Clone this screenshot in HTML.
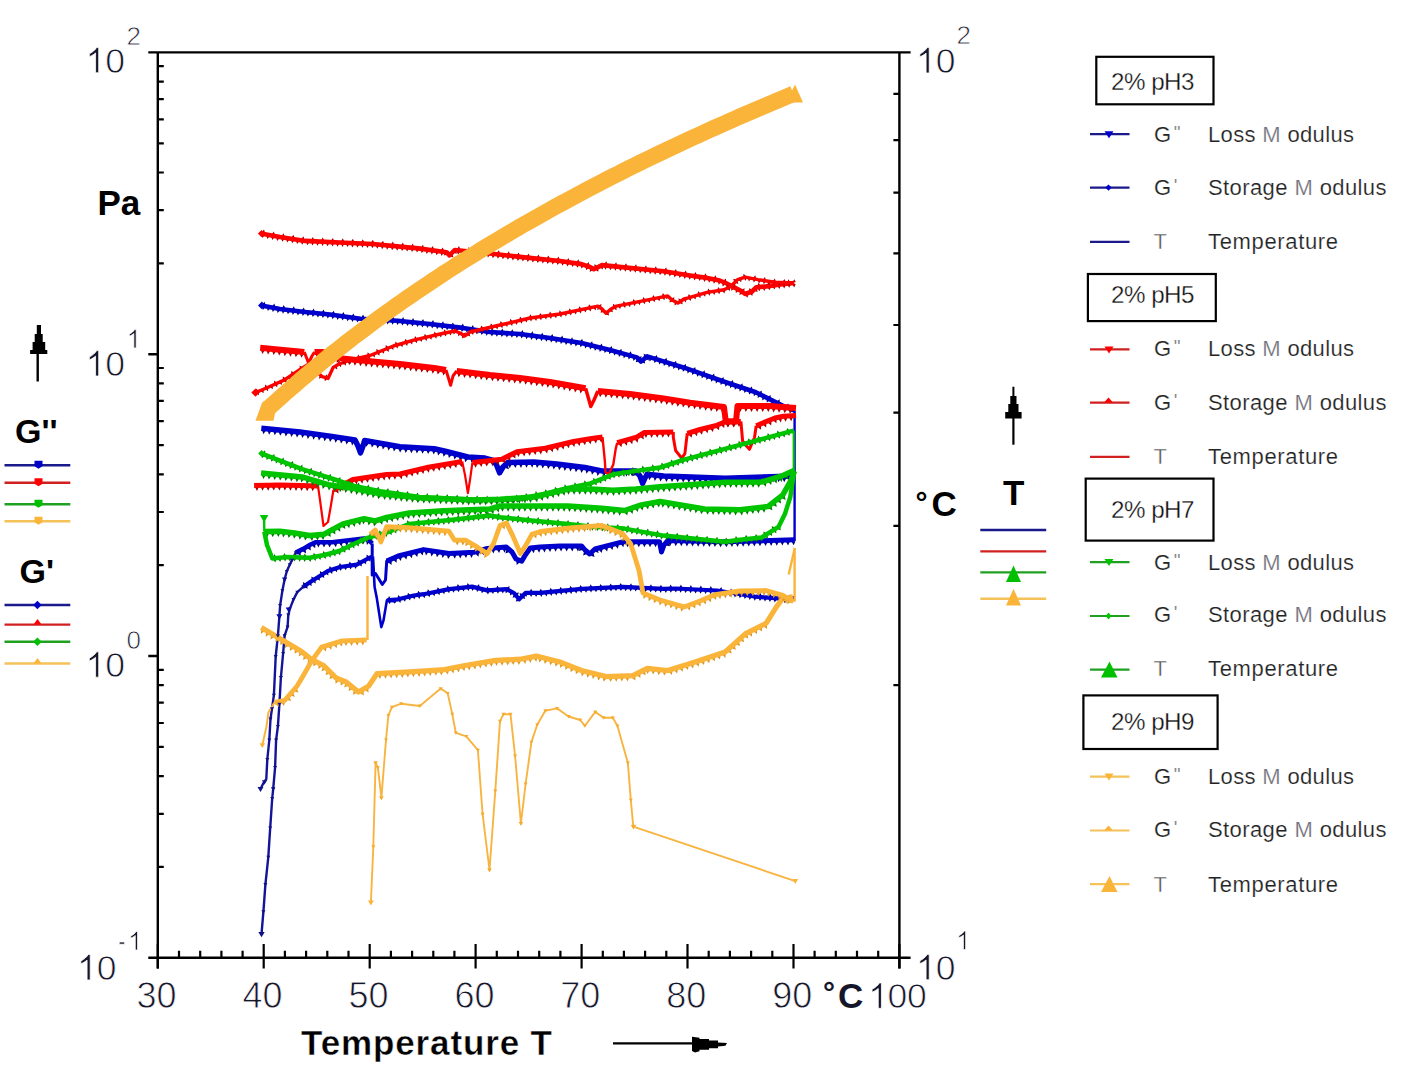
<!DOCTYPE html><html><head><meta charset="utf-8"><style>html,body{margin:0;padding:0;background:#fff;overflow:hidden;}svg{display:block;}text{font-family:"Liberation Sans",sans-serif;}</style></head><body>
<svg width="1414" height="1075" viewBox="0 0 1414 1075">
<rect width="1414" height="1075" fill="#fff"/>
<path d="M262.0 307.1L264.9 307.6L262.9 310.1ZM262.6 304.1L265.5 304.7L264.6 301.7ZM266.9 308.0L269.9 308.6L267.9 311.0ZM271.8 309.0L274.8 309.5L272.8 312.0ZM272.4 306.0L275.3 306.6L274.4 303.5ZM276.7 309.9L279.7 310.5L277.7 312.9ZM281.8 310.7L284.7 311.1L282.9 313.7ZM282.1 307.7L285.1 308.1L283.9 305.1ZM286.7 311.3L289.7 311.7L287.9 314.3ZM291.7 311.9L294.7 312.3L292.8 314.9ZM292.1 308.9L295.0 309.3L293.9 306.3ZM296.7 312.5L299.6 312.9L297.8 315.5ZM301.6 313.1L304.6 313.5L302.8 316.1ZM302.0 310.1L305.0 310.5L303.8 307.5ZM306.6 313.7L309.6 314.0L307.8 316.6ZM311.6 314.2L314.6 314.5L312.8 317.1ZM311.9 311.2L314.9 311.5L313.7 308.5ZM316.6 314.7L319.6 315.0L317.8 317.6ZM321.5 315.2L324.5 315.5L322.8 318.1ZM321.8 312.2L324.8 312.5L323.6 309.5ZM326.5 315.7L329.5 316.0L327.7 318.6ZM331.4 316.2L334.4 316.6L332.5 319.2ZM331.8 313.2L334.8 313.6L333.7 310.7ZM336.4 316.9L339.4 317.3L337.5 319.9ZM341.3 317.6L344.3 318.0L342.4 320.6ZM341.7 314.6L344.7 315.0L343.6 312.0ZM346.3 318.3L349.3 318.7L347.4 321.2ZM351.2 318.9L354.2 319.3L352.3 321.9ZM351.7 316.0L354.6 316.4L353.5 313.4ZM356.2 319.6L359.2 320.0L357.3 322.6ZM361.3 320.2L364.3 320.4L362.6 323.1ZM361.4 317.3L364.4 317.4L363.1 314.5ZM366.3 320.5L369.3 320.7L367.6 323.4ZM371.3 320.8L374.3 321.0L372.6 323.7ZM371.4 317.8L374.4 318.0L373.1 315.1ZM376.3 321.1L379.2 321.3L377.6 324.0ZM381.2 321.4L384.2 321.6L382.6 324.3ZM381.4 318.4L384.4 318.6L383.1 315.7ZM386.2 321.7L389.2 321.8L387.6 324.5ZM391.2 322.0L394.2 322.1L392.6 324.8ZM391.4 319.0L394.4 319.1L393.1 316.2ZM396.2 322.2L399.1 322.5L397.4 325.1ZM401.1 322.7L404.1 323.0L402.4 325.6ZM401.4 319.7L404.4 320.0L403.2 317.0ZM406.1 323.2L409.1 323.5L407.3 326.1ZM411.1 323.7L414.1 323.9L412.3 326.6ZM411.4 320.7L414.4 321.0L413.2 318.0ZM416.1 324.1L419.1 324.4L417.3 327.1ZM421.0 324.6L424.0 324.9L422.3 327.6ZM421.3 321.6L424.3 321.9L423.1 319.0ZM426.0 325.1L429.0 325.4L427.2 328.0ZM431.0 325.6L433.9 326.0L432.1 328.6ZM431.3 322.6L434.3 323.0L433.1 320.0ZM435.9 326.2L438.9 326.6L437.1 329.2ZM440.9 326.8L443.9 327.2L442.1 329.8ZM441.2 323.8L444.2 324.2L443.1 321.2ZM445.9 327.4L448.8 327.7L447.0 330.3ZM450.8 328.0L453.8 328.3L452.0 330.9ZM451.2 325.0L454.2 325.4L453.0 322.4ZM455.8 328.6L458.8 328.9L456.9 331.5ZM460.8 329.2L463.7 329.5L461.9 332.1ZM461.1 326.2L464.1 326.5L462.9 323.6ZM465.7 329.8L468.6 330.3L466.7 332.8ZM470.6 330.6L473.6 331.0L471.7 333.6ZM471.1 327.6L474.0 328.1L473.0 325.1ZM475.5 331.3L478.5 331.8L476.6 334.3ZM480.5 332.1L483.5 332.5L481.6 335.1ZM480.9 329.1L483.9 329.6L482.8 326.6ZM485.4 332.8L488.4 333.3L486.5 335.8ZM490.5 333.5L493.5 333.7L491.8 336.4ZM490.7 330.5L493.7 330.7L492.4 327.8ZM495.5 333.9L498.5 334.1L496.8 336.8ZM500.5 334.2L503.5 334.4L501.8 337.1ZM500.7 331.2L503.7 331.4L502.4 328.5ZM505.5 334.5L508.5 334.7L506.8 337.4ZM510.5 334.9L513.5 335.1L511.8 337.8ZM510.7 331.9L513.7 332.1L512.3 329.2ZM515.5 335.2L518.4 335.4L516.8 338.1ZM520.3 335.6L523.3 336.0L521.5 338.5ZM520.7 332.6L523.7 333.0L522.6 330.0ZM525.3 336.2L528.3 336.6L526.4 339.2ZM530.3 336.9L533.2 337.3L531.4 339.9ZM530.6 333.9L533.6 334.3L532.5 331.3ZM535.2 337.5L538.2 337.9L536.3 340.5ZM540.2 338.2L543.1 338.6L541.3 341.2ZM540.6 335.2L543.5 335.6L542.4 332.7ZM545.1 338.9L548.1 339.3L546.2 341.8ZM550.0 339.5L553.0 340.0L551.1 342.5ZM550.5 336.6L553.5 337.0L552.4 334.0ZM555.0 340.3L557.9 340.8L556.0 343.3ZM559.9 341.1L562.9 341.6L560.9 344.1ZM560.4 338.2L563.3 338.6L562.3 335.6ZM564.8 341.9L567.8 342.4L565.9 344.9ZM569.8 342.7L572.7 343.2L570.8 345.7ZM570.3 339.8L573.2 340.2L572.2 337.2ZM574.7 343.5L577.7 344.0L575.7 346.5ZM579.6 344.3L582.6 344.8L580.7 347.3ZM580.1 341.4L583.1 341.8L582.1 338.8ZM584.4 345.4L587.3 346.1L585.2 348.4ZM589.3 346.5L592.2 347.2L590.1 349.6ZM590.0 343.6L592.9 344.3L592.1 341.2ZM594.1 347.7L597.1 348.4L594.9 350.8ZM599.0 348.9L601.9 349.6L599.8 352.0ZM599.7 346.0L602.6 346.7L601.8 343.6ZM603.9 350.1L606.8 350.8L604.7 353.1ZM608.7 351.2L611.6 352.0L609.4 354.3ZM609.5 348.3L612.4 349.1L611.7 346.0ZM613.5 352.5L616.4 353.3L614.2 355.6ZM618.3 353.8L621.2 354.6L619.0 356.9ZM619.1 351.0L622.0 351.7L621.3 348.7ZM623.1 355.2L626.0 356.0L623.8 358.3ZM628.0 356.5L630.9 357.3L628.7 359.6ZM628.8 353.6L631.7 354.4L630.9 351.3ZM632.8 357.8L635.7 358.6L633.5 360.9ZM636.6 359.3L638.8 361.4L635.7 362.3ZM638.8 357.1L640.9 359.3L641.8 356.2ZM642.2 362.4L644.5 360.5L645.2 363.6ZM646.1 359.3L648.4 357.4L649.0 360.5ZM644.2 356.9L646.5 355.0L643.6 353.8ZM649.0 358.5L651.8 359.4L649.6 361.6ZM653.8 360.0L656.6 360.9L654.4 363.1ZM654.6 357.1L657.5 358.0L656.9 354.9ZM658.5 361.4L661.4 362.3L659.2 364.6ZM663.3 362.9L666.2 363.8L663.9 366.0ZM664.2 360.0L667.1 360.9L666.5 357.8ZM668.1 364.4L671.0 365.2L668.7 367.5ZM672.9 365.8L675.8 366.7L673.5 368.9ZM673.8 363.0L676.6 363.8L676.0 360.7ZM677.7 367.3L680.5 368.2L678.3 370.4ZM682.4 368.7L685.2 369.7L682.9 371.8ZM683.4 365.9L686.2 366.9L685.7 363.7ZM687.1 370.3L690.0 371.3L687.6 373.5ZM691.8 372.0L694.7 373.0L692.3 375.1ZM692.8 369.2L695.7 370.1L695.2 367.0ZM696.6 373.6L699.4 374.6L697.1 376.8ZM701.3 375.3L704.1 376.3L701.8 378.4ZM702.3 372.5L705.1 373.4L704.6 370.3ZM706.0 376.9L708.8 377.9L706.5 380.1ZM710.7 378.6L713.6 379.6L711.2 381.7ZM711.7 375.7L714.6 376.7L714.1 373.6ZM715.5 380.2L718.3 381.2L715.9 383.4ZM720.2 381.9L723.0 382.9L720.7 385.0ZM721.2 379.0L724.0 380.0L723.5 376.9ZM724.9 383.5L727.8 384.5L725.4 386.7ZM729.7 385.1L732.5 386.1L730.2 388.2ZM730.6 382.3L733.5 383.2L732.9 380.1ZM734.4 386.7L737.2 387.7L734.9 389.8ZM739.1 388.3L742.0 389.2L739.7 391.4ZM740.1 385.4L742.9 386.4L742.4 383.3ZM743.9 389.9L746.7 390.8L744.4 393.0ZM748.6 391.5L751.5 392.4L749.1 394.6ZM749.6 388.6L752.4 389.6L751.9 386.4ZM753.4 393.1L756.2 394.0L753.9 396.2ZM757.7 394.9L760.4 396.3L757.8 398.1ZM759.1 392.3L761.8 393.6L761.7 390.4ZM762.2 397.2L764.9 398.5L762.3 400.4ZM766.7 399.4L769.4 400.7L766.8 402.6ZM768.0 396.7L770.7 398.1L770.6 394.9ZM771.2 401.6L773.9 403.0L771.3 404.8ZM775.6 403.9L778.3 405.2L775.7 407.0ZM777.0 401.2L779.7 402.5L779.6 399.3ZM780.1 406.1L782.8 407.4L780.2 409.3ZM784.8 408.2L787.6 409.3L785.1 411.3ZM785.9 405.4L788.7 406.5L788.4 403.4ZM789.4 410.1L792.2 411.2L789.7 413.2Z" fill="#00007a"/>
<path d="M261.3 305.4 L280.0 309.0 L305.0 312.0 L330.0 314.5 L360.5 318.7 L397.4 320.8 L430.0 324.0 L462.9 327.9 L490.0 332.0 L520.0 334.0 L550.0 338.0 L581.5 343.1 L610.0 350.0 L636.9 357.4 L641.0 361.5 L647.2 356.4 L684.1 367.7 L725.1 382.0 L755.8 392.3 L782.5 405.6 L794.8 410.7" fill="none" stroke="#0000cc" stroke-width="4.6" stroke-linejoin="round" stroke-linecap="butt"/>
<path d="M262.0 430.2L265.8 430.6L263.5 434.2ZM267.6 430.8L271.4 431.1L269.1 434.7ZM273.2 431.3L276.9 431.7L274.7 435.3ZM278.7 431.9L282.5 432.2L280.2 435.8ZM284.3 432.4L288.1 432.8L285.8 436.4ZM289.9 433.0L293.7 433.3L291.4 436.9ZM295.4 433.5L299.2 433.9L297.0 437.5ZM300.9 434.1L304.7 434.6L302.3 438.1ZM306.5 434.9L310.2 435.4L307.8 438.9ZM312.0 435.6L315.8 436.1L313.4 439.7ZM317.6 436.4L321.3 436.9L318.9 440.4ZM323.1 437.2L326.9 437.7L324.5 441.2ZM328.7 437.9L332.4 438.4L330.0 441.9ZM334.2 438.7L337.9 439.3L335.5 442.8ZM339.7 439.6L343.5 440.2L341.0 443.6ZM345.2 440.5L349.0 441.0L346.5 444.5ZM350.8 441.3L354.5 441.9L352.1 445.4ZM365.1 442.6L368.9 443.2L366.3 446.7ZM370.7 443.6L374.4 444.2L371.9 447.6ZM376.2 444.5L379.9 445.2L377.4 448.6ZM381.7 445.5L385.4 446.2L382.9 449.6ZM387.2 446.5L390.9 447.2L388.4 450.6ZM392.7 447.5L396.5 448.1L393.9 451.6ZM398.4 448.7L402.2 448.9L400.1 452.6ZM404.0 449.0L407.8 449.2L405.7 452.9ZM409.6 449.3L413.4 449.5L411.3 453.2ZM415.2 449.6L419.0 449.8L416.9 453.5ZM420.8 449.9L424.6 450.1L422.5 453.8ZM426.4 450.2L430.2 450.4L428.1 454.1ZM432.0 450.5L435.8 450.7L433.7 454.4ZM437.2 451.4L440.9 452.3L438.1 455.5ZM442.6 452.7L446.3 453.5L443.6 456.8ZM448.0 454.0L451.7 454.9L448.9 458.1ZM453.4 455.4L457.1 456.3L454.4 459.5ZM458.9 456.7L462.6 457.7L459.8 460.9ZM464.3 458.1L468.0 459.0L465.2 462.3ZM470.2 459.1L473.9 459.3L471.8 463.0ZM475.7 459.5L479.5 459.7L477.4 463.4ZM481.3 459.8L485.1 460.1L483.0 463.7ZM486.4 460.6L490.1 461.6L487.2 464.7ZM491.8 462.1L495.5 463.2L492.6 466.3ZM505.0 467.8L507.7 465.1L509.0 469.2ZM507.8 464.5L511.6 464.4L509.8 468.3ZM513.4 464.4L517.2 464.3L515.4 468.1ZM519.0 464.2L522.8 464.1L521.0 468.0ZM524.6 464.1L528.4 464.0L526.6 467.8ZM530.2 464.0L533.9 463.8L532.2 467.7ZM535.5 464.0L539.3 464.4L537.0 468.0ZM541.1 464.6L544.9 464.9L542.6 468.5ZM546.6 465.1L550.4 465.5L548.2 469.1ZM552.2 465.6L556.0 466.0L553.7 469.6ZM557.7 466.2L561.5 466.7L559.2 470.2ZM563.3 466.9L567.1 467.3L564.7 470.9ZM568.9 467.5L572.6 468.0L570.3 471.5ZM574.4 468.2L578.2 468.7L575.9 472.2ZM580.0 468.9L583.8 469.3L581.4 472.9ZM585.4 469.6L589.1 470.3L586.5 473.7ZM590.9 470.7L594.6 471.4L592.0 474.8ZM596.4 471.8L600.1 472.5L597.5 475.9ZM602.2 472.8L606.0 472.8L604.1 476.6ZM607.8 472.8L611.6 472.8L609.7 476.6ZM613.4 472.8L617.2 472.8L615.3 476.6ZM619.0 472.8L622.8 472.8L620.9 476.6ZM624.6 472.8L628.4 472.8L626.5 476.6ZM630.2 472.8L634.0 472.8L632.1 476.6ZM634.3 472.2L636.7 475.1L632.6 476.1ZM647.8 476.3L651.6 476.7L649.3 480.3ZM653.4 476.9L657.1 477.4L654.8 480.9ZM658.9 477.6L662.7 478.0L660.4 481.5ZM664.6 478.1L668.4 478.2L666.4 481.9ZM670.2 478.3L674.0 478.4L672.0 482.1ZM675.8 478.5L679.6 478.6L677.6 482.3ZM681.4 478.7L685.2 478.8L683.2 482.5ZM687.0 478.9L690.8 479.0L688.8 482.7ZM692.6 479.0L696.4 479.2L694.4 482.9ZM698.2 479.2L702.0 479.4L700.0 483.1ZM703.8 479.4L707.6 479.6L705.6 483.3ZM709.4 479.6L713.2 479.7L711.2 483.5ZM715.0 479.8L718.8 479.9L716.8 483.7ZM720.6 480.0L724.4 480.1L722.4 483.9ZM726.3 480.1L730.1 480.0L728.3 483.9ZM731.9 479.9L735.7 479.8L733.9 483.7ZM737.5 479.8L741.3 479.7L739.5 483.5ZM743.1 479.6L746.9 479.5L745.1 483.3ZM748.7 479.4L752.5 479.3L750.7 483.2ZM754.3 479.3L758.1 479.2L756.3 483.0ZM759.9 479.1L763.7 479.0L761.9 482.8ZM765.5 478.9L769.3 478.8L767.5 482.7ZM771.1 478.8L774.9 478.7L773.1 482.5ZM776.7 478.6L780.5 478.5L778.7 482.3ZM782.3 478.4L786.1 478.3L784.3 482.2ZM787.9 478.3L791.7 478.1L789.9 482.0Z" fill="#00007a"/>
<path d="M261.3 428.2 L300.0 432.0 L331.9 436.4 L355.0 440.0 L358.0 446.0 L360.5 452.8 L363.0 446.0 L364.6 440.5 L400.0 446.8 L434.2 448.7 L445.3 451.3 L467.9 457.0 L484.9 458.1 L495.0 461.0 L499.6 472.8 L503.0 467.0 L507.5 462.6 L533.9 461.9 L556.6 464.1 L584.9 467.5 L601.8 470.9 L635.8 470.9 L640.0 476.0 L642.6 483.4 L645.0 478.0 L647.1 474.3 L663.6 476.1 L725.1 478.2 L794.8 476.1" fill="none" stroke="#0000cc" stroke-width="5.5" stroke-linejoin="round" stroke-linecap="butt"/>
<path d="M260.5 788.8 L263.0 784.0 L266.3 779.0 L267.3 759.5 L269.3 740.0 L270.5 719.0 L272.0 708.6 L273.9 695.2 L275.7 656.5 L277.9 635.7 L279.4 616.4 L280.1 605.5 L282.4 590.6 L284.6 579.4 L286.8 571.3 L289.8 564.6 L292.0 560.1 L295.8 552.6" fill="none" stroke="#14149a" stroke-width="2.4" stroke-linejoin="round" stroke-linecap="butt"/>
<path d="M297.3 553.5L300.7 551.8L300.7 556.1ZM302.4 551.1L305.7 549.2L306.0 553.4ZM307.3 548.2L310.5 546.3L310.8 550.5ZM311.9 545.6L315.4 544.1L315.2 548.3ZM316.5 543.7L320.3 543.7L318.4 547.5ZM322.1 543.7L325.9 543.8L324.0 547.6ZM327.7 543.8L331.5 543.8L329.6 547.6ZM333.5 543.6L337.3 543.2L335.8 547.2ZM339.1 543.0L342.8 542.5L341.4 546.5ZM344.6 542.3L348.4 541.9L347.0 545.9ZM350.2 541.6L354.0 541.2L352.5 545.2ZM355.8 541.0L359.5 540.5L358.1 544.5ZM361.3 540.3L365.1 539.9L363.7 543.9ZM366.2 540.7L369.8 541.8L366.9 544.9Z" fill="#00007a"/>
<path d="M295.8 552.6 L303.2 548.9 L310.6 544.5 L316.0 542.2 L331.9 542.3 L364.0 538.5 L369.0 540.0 L372.2 543.5" fill="none" stroke="#0000cc" stroke-width="4.6" stroke-linejoin="round" stroke-linecap="butt"/>
<path d="M372.2 543.5 L372.2 575.0 L375.5 573.5 L382.3 584.5 L385.5 580.0 L386.7 561.1 L398.2 556.0" fill="none" stroke="#0000cc" stroke-width="3" stroke-linejoin="round" stroke-linecap="butt"/>
<path d="M388.2 562.3L391.7 560.7L391.5 565.0ZM393.3 560.0L396.8 558.5L396.6 562.7ZM398.1 557.8L401.8 556.8L400.9 561.0ZM403.6 556.4L407.3 555.5L406.4 559.6ZM409.0 555.0L412.7 554.1L411.8 558.2ZM414.4 553.7L418.1 552.7L417.2 556.9ZM419.9 552.3L423.6 551.4L422.6 555.5ZM424.7 551.5L428.4 552.1L426.0 555.5ZM430.2 552.3L433.9 552.9L431.5 556.4ZM435.7 553.2L439.5 553.7L437.0 557.2ZM441.3 554.0L445.0 554.6L442.6 558.1ZM446.8 554.9L450.6 555.4L448.1 558.9ZM452.7 555.0L456.5 554.8L454.8 558.7ZM458.3 554.7L462.1 554.5L460.4 558.4ZM463.9 554.4L467.7 554.3L466.0 558.1ZM469.5 554.2L473.3 554.0L471.6 557.9ZM475.5 553.7L479.1 552.6L478.4 556.8ZM480.8 552.1L484.5 551.0L483.7 555.2ZM485.8 550.2L489.6 550.0L487.9 553.9ZM491.3 549.8L495.1 549.6L493.5 553.5ZM496.9 549.4L500.7 549.2L499.1 553.1ZM502.5 549.1L506.3 548.8L504.7 552.7ZM506.5 549.4L509.3 551.9L505.4 553.5ZM516.3 560.9L519.8 562.2L516.7 565.1ZM531.4 549.6L535.1 549.3L533.6 553.2ZM536.9 549.1L540.7 548.7L539.2 552.7ZM542.4 548.7L546.2 548.5L544.6 552.4ZM548.0 548.4L551.8 548.2L550.1 552.1ZM553.6 548.1L557.4 547.8L555.7 551.7ZM559.1 547.7L562.9 547.7L561.1 551.5ZM564.7 547.7L568.5 547.7L566.7 551.5ZM570.3 547.7L574.1 547.6L572.3 551.4ZM575.9 547.6L579.7 547.6L577.9 551.4ZM580.2 547.0L582.7 549.9L578.6 550.9ZM584.1 551.4L587.0 553.9L583.1 555.6ZM590.6 555.5L593.4 552.9L594.6 556.9ZM594.7 551.6L597.5 549.0L598.7 553.1ZM598.9 549.7L602.6 548.8L601.7 552.9ZM604.3 548.3L608.0 547.4L607.1 551.5ZM609.7 546.9L613.4 545.9L612.5 550.1ZM615.1 545.5L618.8 544.5L617.9 548.7ZM620.6 544.1L624.2 543.1L623.4 547.3ZM625.7 543.5L629.5 543.5L627.6 547.3ZM631.3 543.5L635.1 543.5L633.2 547.3ZM636.9 543.5L640.7 543.5L638.8 547.3ZM642.5 543.5L646.3 543.5L644.4 547.3ZM648.1 543.5L651.9 543.5L650.0 547.3ZM653.7 543.5L657.5 543.5L655.6 547.3ZM665.9 545.4L668.3 542.4L670.0 546.3ZM668.3 542.2L672.1 542.3L670.1 546.1ZM673.9 542.3L677.7 542.4L675.7 546.2ZM679.5 542.5L683.3 542.6L681.3 546.3ZM685.1 542.6L688.9 542.7L686.9 546.4ZM690.7 542.7L694.5 542.8L692.5 546.6ZM696.3 542.8L700.1 542.9L698.1 546.7ZM701.9 543.0L705.7 543.1L703.7 546.8ZM707.5 543.1L711.3 543.2L709.3 546.9ZM713.1 543.2L716.9 543.3L714.9 547.1ZM718.7 543.4L722.5 543.4L720.5 547.2ZM724.4 543.5L728.2 543.4L726.4 547.3ZM730.0 543.4L733.8 543.2L732.0 547.1ZM735.6 543.2L739.4 543.1L737.6 546.9ZM741.2 543.0L745.0 542.9L743.2 546.8ZM746.8 542.8L750.6 542.7L748.8 546.6ZM752.4 542.7L756.2 542.6L754.4 546.4ZM758.0 542.5L761.8 542.4L760.0 546.3ZM763.6 542.3L767.4 542.2L765.6 546.1ZM769.2 542.2L773.0 542.1L771.2 545.9ZM774.8 542.0L778.6 541.9L776.8 545.7ZM780.4 541.8L784.2 541.7L782.4 545.6ZM786.0 541.7L789.8 541.6L788.0 545.4ZM791.6 541.5L795.4 541.4L793.6 545.2Z" fill="#00007a"/>
<path d="M386.7 561.1 L398.2 556.0 L423.6 549.6 L449.1 553.5 L474.6 552.2 L487.3 548.4 L506.4 547.1 L512.0 552.0 L516.0 559.0 L521.7 561.1 L525.5 554.7 L530.3 548.0 L540.0 547.1 L560.0 546.0 L581.5 545.9 L585.0 550.0 L589.7 554.0 L595.0 549.0 L622.5 541.8 L659.5 541.8 L661.5 552.0 L664.0 545.0 L667.7 540.5 L725.1 541.8 L794.8 539.7" fill="none" stroke="#0000cc" stroke-width="5" stroke-linejoin="round" stroke-linecap="butt"/>
<path d="M261.5 934.1 L263.4 911.7 L265.4 884.4 L268.3 857.1 L270.2 827.8 L272.2 798.5 L273.2 788.8 L275.1 767.3 L276.1 740.0 L277.9 726.4 L279.4 704.1 L280.9 677.3 L283.1 653.5 L284.6 635.7 L287.6 626.8 L288.3 615.0 L289.8 608.9 L293.5 599.5 L297.3 592.1 L303.2 586.9" fill="none" stroke="#14149a" stroke-width="2.4" stroke-linejoin="round" stroke-linecap="butt"/>
<path d="M304.8 587.4L307.2 585.7L307.6 588.8ZM303.3 585.3L305.7 583.5L302.9 582.1ZM308.9 584.5L311.3 582.8L311.7 585.9ZM312.9 581.8L315.5 580.2L315.7 583.4ZM311.6 579.6L314.1 578.0L311.4 576.4ZM317.2 579.1L319.7 577.5L319.9 580.7ZM321.4 576.5L324.0 574.9L324.2 578.1ZM320.1 574.3L322.6 572.7L319.9 571.1ZM325.7 573.8L328.2 572.3L328.4 575.4ZM329.8 571.7L332.7 570.8L332.1 573.9ZM329.0 569.2L331.9 568.3L329.6 566.1ZM334.6 570.1L337.4 569.2L336.9 572.3ZM339.1 568.4L342.0 568.0L340.9 571.0ZM338.7 565.9L341.7 565.4L339.8 562.9ZM344.0 567.7L347.0 567.3L345.9 570.3ZM349.0 567.0L351.9 566.6L350.8 569.6ZM348.6 564.5L351.6 564.0L349.7 561.5ZM353.9 566.3L356.9 565.9L355.8 568.9ZM359.1 564.8L361.7 563.4L361.7 566.6ZM357.8 562.5L360.5 561.1L357.8 559.3ZM363.5 562.4L366.1 561.0L366.1 564.2ZM367.9 560.1L370.5 558.7L370.5 561.8ZM366.6 557.8L369.3 556.4L366.6 554.6Z" fill="#00007a"/>
<path d="M303.2 586.9 L310.6 581.7 L327.8 571.0 L340.0 567.0 L356.7 564.6 L369.0 558.0 L373.0 556.5" fill="none" stroke="#0000cc" stroke-width="4.2" stroke-linejoin="round" stroke-linecap="butt"/>
<path d="M373.0 556.5 L374.6 587.0 L376.8 598.1 L381.3 627.1 L383.5 620.4 L386.9 600.4 L395.8 601.5" fill="none" stroke="#0000cc" stroke-width="2.6" stroke-linejoin="round" stroke-linecap="butt"/>
<path d="M388.0 601.6L391.0 601.3L389.8 604.2ZM387.8 599.0L390.8 598.7L389.0 596.1ZM393.0 601.1L396.0 600.8L394.8 603.8ZM398.2 600.6L401.1 599.9L400.3 603.0ZM397.5 598.1L400.5 597.4L398.3 595.0ZM403.0 599.5L405.9 598.7L405.1 601.8ZM407.9 598.3L410.8 597.6L410.0 600.6ZM407.3 595.7L410.2 595.0L408.0 592.7ZM412.6 597.0L415.5 596.6L414.4 599.5ZM417.5 596.3L420.5 595.9L419.4 598.9ZM417.2 593.7L420.2 593.3L418.3 590.8ZM422.6 595.7L425.5 595.1L424.6 598.2ZM427.5 594.7L430.4 594.2L429.5 597.2ZM427.0 592.2L429.9 591.6L427.9 589.2ZM432.4 593.8L435.3 593.2L434.4 596.2ZM437.3 592.8L440.2 592.2L439.3 595.2ZM436.8 590.2L439.7 589.6L437.7 587.2ZM442.2 591.8L445.1 591.2L444.2 594.3ZM447.1 590.8L450.0 590.2L449.1 593.3ZM446.6 588.3L449.5 587.7L447.5 585.2ZM451.9 590.1L454.9 589.8L453.7 592.7ZM456.9 589.6L459.9 589.2L458.7 592.2ZM456.6 587.0L459.6 586.6L457.8 584.0ZM461.9 589.0L464.8 588.7L463.7 591.6ZM466.8 588.5L469.8 588.1L468.6 591.1ZM466.6 585.9L469.5 585.6L467.7 582.9ZM471.4 587.8L474.3 588.5L472.1 590.9ZM476.2 589.0L479.1 589.7L477.0 592.1ZM476.8 586.5L479.7 587.2L479.0 584.1ZM481.1 590.2L484.0 590.9L481.8 593.3ZM486.3 591.8L489.3 591.6L488.0 594.5ZM486.1 589.2L489.1 589.0L487.4 586.3ZM491.3 591.4L494.3 591.2L493.0 594.1ZM496.3 591.1L499.3 590.9L498.0 593.8ZM496.1 588.5L499.1 588.3L497.4 585.6ZM501.3 590.8L504.2 590.5L502.9 593.4ZM505.6 590.1L508.3 591.5L505.6 593.3ZM506.8 587.8L509.4 589.2L509.4 586.0ZM510.0 592.4L512.7 593.8L510.1 595.6ZM513.8 594.8L515.6 597.1L512.5 597.7ZM515.8 593.1L517.7 595.5L518.9 592.5ZM516.9 598.6L518.8 601.0L515.7 601.6ZM522.2 598.0L524.3 595.9L525.3 598.9ZM520.4 596.2L522.5 594.1L519.5 593.1ZM524.6 594.2L527.6 594.2L526.1 597.0ZM529.6 594.2L532.6 594.2L531.1 597.0ZM529.6 591.6L532.6 591.6L531.1 588.8ZM534.6 594.2L537.6 594.2L536.1 597.0ZM539.7 594.2L542.7 593.9L541.4 596.9ZM539.4 591.6L542.4 591.4L540.7 588.7ZM544.7 593.8L547.6 593.5L546.4 596.4ZM549.6 593.3L552.6 593.0L551.4 595.9ZM549.4 590.7L552.4 590.4L550.6 587.8ZM554.6 592.8L557.6 592.5L556.4 595.4ZM559.6 592.3L562.6 592.0L561.3 595.0ZM559.3 589.7L562.3 589.4L560.6 586.8ZM564.6 591.8L567.6 591.6L566.3 594.5ZM569.5 591.4L572.5 591.1L571.3 594.0ZM569.3 588.8L572.3 588.5L570.5 585.8ZM574.5 590.9L577.5 590.6L576.3 593.5ZM579.5 590.4L582.5 590.1L581.3 593.0ZM579.2 587.8L582.2 587.5L580.5 584.9ZM584.4 590.1L587.4 589.9L586.1 592.8ZM589.4 589.8L592.4 589.7L591.1 592.5ZM589.3 587.2L592.3 587.1L590.7 584.3ZM594.4 589.6L597.4 589.4L596.0 592.3ZM599.4 589.3L602.4 589.2L601.0 592.1ZM599.3 586.7L602.3 586.6L600.6 583.9ZM604.4 589.1L607.4 588.9L606.0 591.8ZM609.4 588.8L612.4 588.7L611.0 591.6ZM609.3 586.2L612.3 586.1L610.6 583.4ZM614.4 588.6L617.4 588.5L616.0 591.3ZM619.4 588.4L622.4 588.2L621.0 591.1ZM619.3 585.8L622.2 585.6L620.6 582.9ZM624.2 588.3L627.2 588.4L625.6 591.2ZM629.2 588.5L632.2 588.7L630.6 591.4ZM629.4 585.9L632.4 586.1L631.0 583.2ZM634.2 588.8L637.2 588.9L635.6 591.6ZM639.2 589.0L642.2 589.2L640.6 591.9ZM639.4 586.4L642.4 586.6L641.0 583.7ZM644.2 589.3L647.2 589.4L645.6 592.1ZM649.2 589.5L652.2 589.6L650.6 592.4ZM649.3 586.9L652.3 587.1L651.0 584.2ZM654.2 589.7L657.2 589.9L655.6 592.6ZM659.2 590.0L662.2 590.1L660.6 592.9ZM659.3 587.4L662.3 587.5L661.0 584.7ZM664.3 590.2L667.3 590.1L665.9 592.9ZM669.3 590.0L672.3 589.9L670.9 592.8ZM669.2 587.4L672.2 587.3L670.6 584.6ZM674.3 589.9L677.3 589.8L675.9 592.6ZM679.2 590.0L682.2 590.1L680.6 592.8ZM679.3 587.4L682.3 587.5L681.0 584.6ZM684.2 590.2L687.2 590.4L685.5 593.1ZM689.2 590.4L692.2 590.6L690.5 593.3ZM689.3 587.9L692.3 588.0L690.9 585.1ZM694.2 590.7L697.2 590.8L695.5 593.6ZM699.2 590.9L702.2 591.1L700.5 593.8ZM699.3 588.3L702.3 588.5L700.9 585.6ZM704.2 591.2L707.2 591.3L705.5 594.0ZM709.2 591.4L712.2 591.6L710.5 594.3ZM709.3 588.8L712.3 589.0L710.9 586.1ZM714.1 591.7L717.1 591.8L715.5 594.5ZM719.0 592.1L721.9 592.6L720.0 595.1ZM719.4 589.6L722.3 590.1L721.3 587.1ZM723.9 592.9L726.9 593.4L725.0 595.9ZM728.9 593.7L731.8 594.2L729.9 596.7ZM729.3 591.2L732.2 591.6L731.2 588.6ZM733.8 594.5L736.8 595.0L734.8 597.5ZM738.7 595.3L741.7 595.8L739.8 598.3ZM739.1 592.7L742.1 593.2L741.1 590.2ZM743.7 596.1L746.6 596.6L744.7 599.1ZM748.6 596.9L751.6 597.3L749.6 599.9ZM749.0 594.3L752.0 594.8L750.9 591.8ZM753.5 597.7L756.5 598.1L754.6 600.7ZM758.6 598.2L761.6 598.5L759.9 601.1ZM758.8 595.6L761.8 595.9L760.5 593.0ZM763.6 598.6L766.6 598.9L764.9 601.5ZM768.6 599.0L771.6 599.3L769.8 602.0ZM768.8 596.4L771.8 596.7L770.5 593.8ZM773.6 599.4L776.5 599.7L774.8 602.4ZM778.5 599.8L781.5 600.1L779.8 602.8ZM778.7 597.3L781.7 597.5L780.5 594.6ZM783.5 600.3L786.5 600.5L784.8 603.2ZM788.8 600.2L791.8 599.8L790.7 602.7ZM788.4 597.6L791.4 597.2L789.5 594.6Z" fill="#00007a"/>
<path d="M386.9 600.4 L398.2 599.3 L413.7 595.5 L423.6 594.2 L449.1 589.1 L472.0 586.6 L487.3 590.4 L506.4 589.1 L514.0 593.0 L519.1 599.3 L525.5 592.9 L540.0 592.9 L581.5 588.9 L622.5 586.9 L663.6 588.9 L675.9 588.5 L716.9 590.5 L755.8 596.7 L786.6 599.2 L794.8 598.0" fill="none" stroke="#0000cc" stroke-width="4.2" stroke-linejoin="round" stroke-linecap="butt"/>
<path d="M794.6 410.7 L794.6 541.0" fill="none" stroke="#0000cc" stroke-width="2.4" stroke-linejoin="round" stroke-linecap="butt"/>
<path d="M261.5 235.1L264.5 235.6L262.5 238.1ZM262.1 232.1L265.0 232.7L264.0 229.6ZM266.4 236.0L269.4 236.5L267.4 239.0ZM271.3 236.9L274.3 237.5L272.3 239.9ZM271.9 234.0L274.8 234.5L273.9 231.5ZM276.2 237.8L279.2 238.4L277.2 240.9ZM281.2 238.7L284.2 239.2L282.3 241.7ZM281.7 235.7L284.6 236.2L283.6 233.2ZM286.2 239.5L289.1 239.9L287.2 242.5ZM291.1 240.2L294.1 240.7L292.2 243.2ZM291.6 237.3L294.5 237.7L293.5 234.7ZM296.0 241.0L299.0 241.4L297.1 244.0ZM301.0 241.8L304.0 242.2L302.0 244.7ZM301.4 238.8L304.4 239.2L303.4 236.2ZM306.1 242.4L309.1 242.6L307.5 245.3ZM311.1 242.7L314.1 242.8L312.5 245.5ZM311.2 239.7L314.2 239.8L312.9 236.9ZM316.1 242.9L319.1 243.0L317.5 245.8ZM321.1 243.1L324.1 243.3L322.5 246.0ZM321.2 240.1L324.2 240.3L322.8 237.4ZM326.1 243.4L329.1 243.5L327.4 246.2ZM331.1 243.6L334.1 243.7L332.4 246.5ZM331.2 240.6L334.2 240.7L332.8 237.9ZM336.1 243.8L339.1 244.0L337.4 246.7ZM341.1 244.1L344.1 244.2L342.4 246.9ZM341.2 241.1L344.2 241.2L342.8 238.3ZM346.1 244.3L349.1 244.4L347.4 247.1ZM351.0 244.5L354.0 244.6L352.4 247.4ZM351.2 241.5L354.2 241.6L352.8 238.8ZM356.0 244.7L359.0 244.9L357.4 247.6ZM361.0 245.0L364.0 245.1L362.4 247.8ZM361.2 242.0L364.2 242.1L362.8 239.2ZM366.0 245.2L369.0 245.3L367.4 248.1ZM371.0 245.4L374.0 245.6L372.4 248.3ZM371.2 242.4L374.2 242.6L372.8 239.7ZM375.9 245.8L378.9 246.1L377.2 248.7ZM380.9 246.3L383.9 246.6L382.1 249.2ZM381.2 243.3L384.2 243.6L383.0 240.7ZM385.9 246.8L388.9 247.1L387.1 249.7ZM390.9 247.3L393.9 247.5L392.1 250.2ZM391.2 244.3L394.1 244.6L392.9 241.6ZM395.8 247.7L398.8 248.0L397.1 250.7ZM400.8 248.2L403.8 248.5L402.0 251.1ZM401.1 245.2L404.1 245.5L402.9 242.6ZM405.8 248.7L408.8 249.0L407.0 251.6ZM410.8 249.2L413.8 249.5L412.0 252.1ZM411.1 246.2L414.0 246.5L412.8 243.5ZM415.8 249.7L418.7 249.9L417.0 252.6ZM420.7 250.2L423.6 250.6L421.8 253.2ZM421.1 247.2L424.0 247.6L422.9 244.7ZM425.6 250.9L428.6 251.3L426.7 253.9ZM430.6 251.6L433.5 252.0L431.7 254.5ZM431.0 248.6L433.9 249.0L432.8 246.0ZM435.5 252.2L438.5 252.6L436.6 255.2ZM440.5 252.9L443.5 253.3L441.6 255.9ZM440.9 249.9L443.9 250.3L442.7 247.4ZM444.8 252.6L446.9 254.8L443.8 255.6ZM450.4 256.5L452.5 254.3L453.5 257.4ZM448.3 254.4L450.4 252.2L447.4 251.4ZM453.9 252.9L456.0 250.8L457.0 253.8ZM456.9 251.7L459.9 252.0L458.1 254.7ZM457.2 248.7L460.2 249.0L459.0 246.1ZM461.9 252.2L464.9 252.5L463.1 255.2ZM466.9 252.7L469.9 253.0L468.1 255.6ZM467.2 249.7L470.2 250.0L468.9 247.1ZM471.9 253.2L474.8 253.5L473.1 256.1ZM476.8 253.7L479.8 254.0L478.0 256.6ZM477.1 250.7L480.1 251.0L478.9 248.1ZM481.8 254.2L484.8 254.5L483.0 257.1ZM486.8 254.7L489.8 255.0L488.0 257.6ZM487.1 251.7L490.1 252.0L488.8 249.1ZM491.7 255.2L494.7 255.5L492.9 258.2ZM496.7 255.8L499.7 256.1L497.9 258.7ZM497.0 252.8L500.0 253.1L498.8 250.2ZM501.7 256.3L504.7 256.7L502.8 259.3ZM506.6 256.9L509.6 257.2L507.8 259.8ZM507.0 253.9L510.0 254.3L508.8 251.3ZM511.6 257.5L514.6 257.8L512.8 260.4ZM516.6 258.0L519.6 258.4L517.8 261.0ZM516.9 255.0L519.9 255.4L518.7 252.4ZM521.6 258.6L524.5 258.9L522.8 261.5ZM526.5 259.1L529.5 259.4L527.7 262.0ZM526.8 256.1L529.8 256.4L528.6 253.5ZM531.5 259.6L534.5 259.9L532.7 262.5ZM536.5 260.1L539.5 260.4L537.7 263.0ZM536.8 257.1L539.8 257.4L538.6 254.5ZM541.5 260.6L544.4 260.9L542.7 263.5ZM546.4 261.1L549.4 261.4L547.6 264.1ZM546.7 258.1L549.7 258.4L548.5 255.5ZM551.4 261.6L554.4 261.9L552.6 264.6ZM556.4 262.1L559.4 262.4L557.6 265.1ZM556.7 259.2L559.7 259.5L558.5 256.5ZM561.3 262.7L564.3 263.1L562.4 265.7ZM566.2 263.4L569.2 263.8L567.3 266.4ZM566.7 260.4L569.6 260.9L568.5 257.9ZM571.2 264.1L574.2 264.6L572.3 267.1ZM576.1 264.8L579.1 265.3L577.2 267.8ZM576.6 261.9L579.5 262.3L578.4 259.3ZM580.8 265.5L583.7 266.4L581.3 268.6ZM585.6 267.1L588.4 268.0L586.1 270.2ZM586.5 264.2L589.4 265.2L588.8 262.1ZM590.0 268.7L592.5 270.2L589.8 271.9ZM595.7 269.9L598.4 268.6L598.3 271.7ZM594.4 267.2L597.1 265.9L594.5 264.0ZM600.2 267.7L602.9 266.3L602.8 269.5ZM604.1 266.8L607.1 267.1L605.3 269.8ZM604.4 263.8L607.4 264.1L606.2 261.2ZM609.1 267.3L612.1 267.6L610.3 270.3ZM614.0 267.8L617.0 268.1L615.3 270.8ZM614.3 264.8L617.3 265.1L616.1 262.2ZM619.0 268.3L622.0 268.6L620.2 271.3ZM624.0 268.8L627.0 269.1L625.2 271.8ZM624.3 265.8L627.3 266.1L626.1 263.2ZM629.0 269.3L631.9 269.6L630.2 272.3ZM633.9 269.8L636.9 270.1L635.2 272.8ZM634.2 266.8L637.2 267.1L636.0 264.2ZM638.9 270.3L641.9 270.6L640.1 273.3ZM643.9 270.8L646.9 271.1L645.1 273.8ZM644.2 267.8L647.2 268.1L646.0 265.2ZM648.9 271.3L651.8 271.6L650.1 274.3ZM653.8 271.8L656.8 272.1L655.1 274.8ZM654.1 268.8L657.1 269.1L655.9 266.2ZM658.8 272.3L661.8 272.6L660.0 275.3ZM663.7 272.8L666.7 273.3L664.8 275.8ZM664.2 269.9L667.1 270.3L666.1 267.3ZM668.6 273.6L671.6 274.1L669.7 276.6ZM673.6 274.4L676.6 274.8L674.6 277.4ZM674.0 271.4L677.0 271.9L676.0 268.9ZM678.5 275.1L681.5 275.6L679.6 278.1ZM683.5 275.9L686.4 276.4L684.5 278.9ZM683.9 272.9L686.9 273.4L685.8 270.4ZM688.4 276.7L691.4 277.1L689.5 279.7ZM693.4 277.4L696.3 277.8L694.4 280.4ZM693.8 274.4L696.8 274.9L695.7 271.9ZM698.3 278.1L701.3 278.6L699.4 281.1ZM703.3 278.9L706.2 279.3L704.3 281.9ZM703.7 275.9L706.7 276.3L705.6 273.3ZM708.1 279.7L711.1 280.3L709.0 282.7ZM713.0 280.7L715.9 281.3L713.9 283.7ZM713.6 277.7L716.6 278.3L715.6 275.3ZM717.9 281.7L720.8 282.3L718.8 284.7ZM722.3 283.2L725.1 284.4L722.6 286.4ZM723.5 280.5L726.3 281.6L725.9 278.4ZM726.8 285.2L729.4 286.6L726.8 288.4ZM731.2 287.5L733.9 288.9L731.3 290.7ZM732.6 284.9L735.3 286.2L735.2 283.0ZM735.7 289.8L738.4 291.1L735.8 293.0ZM739.9 291.9L742.3 293.7L739.4 295.0ZM741.8 289.5L744.1 291.3L744.7 288.2ZM745.3 295.6L748.1 294.5L747.6 297.7ZM750.0 293.8L752.8 292.8L752.3 296.0ZM748.9 291.0L751.7 290.0L749.4 287.9ZM754.7 291.0L756.8 288.8L757.7 291.9ZM757.7 288.7L760.6 288.4L759.4 291.3ZM757.4 285.7L760.4 285.4L758.6 282.8ZM762.6 288.2L765.6 288.0L764.4 290.9ZM767.7 287.7L770.7 287.3L769.6 290.3ZM767.3 284.8L770.2 284.3L768.4 281.8ZM772.6 287.0L775.6 286.6L774.5 289.6ZM777.6 286.4L780.6 285.9L779.5 288.9ZM777.2 283.4L780.2 283.0L778.3 280.4ZM782.5 285.7L785.5 285.4L784.3 288.4ZM787.5 285.2L790.5 284.9L789.3 287.8ZM787.2 282.2L790.1 281.9L788.4 279.3ZM792.5 284.7L795.4 284.4L794.2 287.3Z" fill="#a80000"/>
<path d="M260.8 233.4 L280.0 237.0 L305.3 240.9 L340.0 242.5 L372.8 244.0 L418.4 248.4 L446.5 252.2 L449.5 255.3 L454.7 250.0 L490.0 253.5 L520.0 256.9 L560.0 261.0 L581.5 264.1 L590.0 267.0 L593.8 269.2 L602.0 265.1 L663.6 271.3 L690.0 275.4 L707.0 277.9 L719.7 280.5 L725.7 283.0 L730.7 285.6 L740.9 290.7 L745.2 294.0 L752.0 291.5 L756.2 287.3 L766.4 286.4 L780.0 284.5 L794.0 283.0" fill="none" stroke="#ff0000" stroke-width="4.6" stroke-linejoin="round" stroke-linecap="butt"/>
<path d="M256.4 393.2L259.1 392.1L258.9 395.2ZM255.7 391.6L258.4 390.4L255.9 388.4ZM261.0 391.3L263.7 390.1L263.5 393.2ZM265.6 389.3L268.3 388.1L268.0 391.3ZM264.9 387.6L267.6 386.5L265.1 384.5ZM270.2 387.3L272.9 386.1L272.7 389.2ZM274.7 385.2L277.5 384.0L277.2 387.2ZM274.0 383.6L276.7 382.4L274.2 380.4ZM279.3 383.2L282.0 382.0L281.8 385.1ZM284.0 381.2L286.5 379.5L286.8 382.7ZM283.0 379.7L285.5 378.0L282.7 376.5ZM288.2 378.4L290.7 376.8L291.0 379.9ZM292.4 375.7L294.9 374.0L295.2 377.2ZM291.4 374.2L293.9 372.5L291.1 371.0ZM296.6 372.9L299.1 371.3L299.3 374.4ZM300.7 370.2L303.3 368.6L303.5 371.8ZM299.8 368.6L302.3 367.1L299.6 365.5ZM305.0 367.6L307.5 366.0L307.7 369.1ZM308.2 366.2L310.6 368.0L307.8 369.4ZM309.2 364.8L311.7 366.5L312.1 363.4ZM312.2 369.1L314.7 370.9L311.8 372.3ZM316.0 372.2L318.2 374.2L315.2 375.3ZM317.3 370.9L319.5 372.9L320.3 369.9ZM319.7 375.6L321.9 377.6L318.9 378.7ZM324.3 378.2L327.2 379.1L324.9 381.3ZM324.8 376.5L327.7 377.3L327.0 374.2ZM334.5 367.7L337.1 366.2L337.2 369.4ZM338.6 365.1L341.5 364.2L340.9 367.3ZM338.0 363.4L340.9 362.4L338.6 360.3ZM343.4 363.5L346.2 362.6L345.7 365.7ZM348.1 361.9L350.9 361.0L350.4 364.1ZM347.5 360.2L350.4 359.3L348.1 357.1ZM352.8 360.4L355.7 359.7L354.9 362.8ZM357.6 359.3L360.6 358.6L359.7 361.7ZM357.2 357.5L360.2 356.9L358.1 354.5ZM362.5 358.2L365.4 357.5L364.6 360.5ZM367.4 357.0L370.3 356.4L369.5 359.4ZM367.0 355.3L369.9 354.6L367.8 352.2ZM372.3 355.5L375.1 354.4L374.7 357.6ZM376.9 353.7L379.7 352.5L379.4 355.7ZM376.2 352.0L379.0 350.9L376.6 348.8ZM381.6 351.8L384.3 350.6L384.0 353.8ZM386.2 349.9L389.0 348.7L388.6 351.9ZM385.5 348.2L388.3 347.1L385.8 345.0ZM390.8 348.0L393.6 346.9L393.3 350.0ZM395.4 346.3L398.3 345.5L397.6 348.6ZM394.9 344.6L397.8 343.8L395.6 341.5ZM400.2 345.0L403.1 344.1L402.4 347.2ZM405.0 343.6L407.9 342.8L407.2 345.9ZM404.5 341.9L407.4 341.0L405.2 338.8ZM409.8 342.2L412.7 341.4L412.1 344.5ZM414.6 340.9L417.5 340.2L416.7 343.3ZM414.2 339.2L417.1 338.5L415.0 336.1ZM419.5 339.8L422.4 339.1L421.6 342.1ZM424.4 338.6L427.3 337.9L426.5 341.0ZM423.9 336.9L426.9 336.2L424.8 333.8ZM429.2 337.5L432.1 336.8L431.3 339.8ZM434.1 336.3L437.0 335.6L436.2 338.7ZM433.7 334.6L436.6 333.9L434.5 331.5ZM438.9 335.1L441.9 334.5L441.0 337.6ZM443.8 334.1L446.8 333.5L445.8 336.6ZM443.5 332.4L446.4 331.8L444.4 329.3ZM448.7 333.1L451.7 332.5L450.7 335.6ZM453.2 331.4L456.0 332.4L453.6 334.5ZM453.8 329.7L456.6 330.8L456.2 327.6ZM457.9 333.2L460.7 334.2L458.3 336.3ZM462.1 335.4L464.7 336.9L461.9 338.5ZM463.1 333.8L465.6 335.4L465.8 332.2ZM467.3 335.3L469.6 333.4L470.2 336.6ZM471.0 332.7L473.9 332.0L473.1 335.1ZM470.6 330.9L473.5 330.3L471.4 327.9ZM475.9 331.6L478.8 330.9L478.0 333.9ZM480.7 330.4L483.7 329.7L482.8 332.8ZM480.3 328.7L483.3 328.0L481.2 325.6ZM485.6 329.3L488.5 328.6L487.7 331.7ZM490.5 328.1L493.4 327.5L492.6 330.5ZM490.1 326.4L493.0 325.7L490.9 323.3ZM495.3 327.0L498.3 326.3L497.4 329.4ZM500.2 325.9L503.1 325.2L502.3 328.3ZM499.8 324.1L502.7 323.4L500.6 321.1ZM505.1 324.7L508.0 324.1L507.2 327.1ZM510.0 323.6L512.9 322.9L512.1 326.0ZM509.5 321.8L512.5 321.2L510.4 318.8ZM514.8 322.5L517.7 321.8L516.9 324.9ZM519.7 321.3L522.6 320.6L521.8 323.7ZM519.3 319.6L522.2 318.9L520.1 316.5ZM524.6 320.2L527.5 319.5L526.7 322.6ZM529.3 319.0L532.3 318.6L531.2 321.6ZM529.1 317.2L532.1 316.8L530.2 314.2ZM534.3 318.3L537.3 317.9L536.1 320.9ZM539.2 317.7L542.2 317.3L541.1 320.3ZM539.0 315.9L542.0 315.5L540.1 312.9ZM544.2 317.0L547.2 316.6L546.1 319.6ZM549.2 316.4L552.1 316.0L551.0 318.9ZM548.9 314.6L551.9 314.2L550.0 311.6ZM554.1 315.7L557.1 315.3L556.0 318.3ZM559.1 315.1L562.1 314.5L561.2 317.5ZM558.8 313.3L561.7 312.7L559.7 310.3ZM564.0 314.1L567.0 313.5L566.1 316.5ZM568.9 313.1L571.9 312.4L571.0 315.5ZM568.6 311.3L571.5 310.7L569.5 308.2ZM573.8 312.0L576.8 311.4L575.9 314.5ZM578.7 311.0L581.7 310.4L580.8 313.5ZM578.4 309.3L581.3 308.6L579.3 306.2ZM583.6 310.0L586.6 309.4L585.7 312.4ZM588.5 309.0L591.5 308.4L590.6 311.4ZM588.2 307.2L591.1 306.6L589.0 304.2ZM593.4 308.0L596.3 307.3L595.5 310.4ZM597.6 307.0L600.0 308.7L597.2 310.1ZM598.6 305.5L601.1 307.2L601.4 304.1ZM601.5 309.8L603.6 311.9L600.5 312.8ZM606.1 314.5L608.4 312.5L609.1 315.6ZM605.0 313.1L607.2 311.1L604.2 310.0ZM609.9 311.2L612.2 309.2L612.9 312.3ZM613.8 308.5L616.5 307.1L616.5 310.3ZM613.0 306.9L615.6 305.5L613.0 303.7ZM618.2 306.7L621.1 306.1L620.2 309.1ZM623.1 305.7L626.0 305.1L625.1 308.1ZM622.7 303.9L625.7 303.3L623.6 300.9ZM628.0 304.7L630.9 304.1L630.0 307.2ZM632.9 303.7L635.8 303.2L634.9 306.2ZM632.5 302.0L635.5 301.4L633.4 298.9ZM637.8 302.8L640.7 302.2L639.8 305.2ZM642.7 301.8L645.6 301.2L644.7 304.2ZM642.3 300.0L645.3 299.4L643.3 297.0ZM647.6 300.8L650.5 300.2L649.6 303.3ZM652.5 299.8L655.4 299.3L654.5 302.3ZM652.1 298.1L655.1 297.5L653.1 295.0ZM657.4 298.9L660.3 298.3L659.4 301.3ZM662.3 297.9L665.2 297.3L664.3 300.3ZM661.9 296.1L664.9 295.5L662.9 293.1ZM666.6 296.1L668.8 298.1L665.7 299.1ZM670.2 299.5L672.4 301.6L669.4 302.6ZM671.4 298.2L673.6 300.3L674.5 297.2ZM674.6 302.4L677.2 303.8L674.6 305.5ZM679.8 302.9L682.3 301.2L682.6 304.4ZM678.8 301.4L681.3 299.7L678.5 298.2ZM683.6 300.0L686.5 299.3L685.8 302.4ZM688.5 298.8L691.3 297.9L690.7 301.0ZM688.0 297.0L690.8 296.2L688.6 293.9ZM693.3 297.4L696.1 296.5L695.5 299.6ZM698.1 296.0L700.9 295.1L700.3 298.2ZM697.6 294.2L700.4 293.4L698.2 291.1ZM702.9 294.5L705.7 293.7L705.1 296.8ZM707.6 293.2L710.5 292.8L709.5 295.8ZM707.3 291.4L710.3 291.0L708.3 288.5ZM712.5 292.5L715.5 292.0L714.4 295.0ZM717.4 291.7L720.4 291.3L719.3 294.3ZM717.2 289.9L720.1 289.5L718.2 286.9ZM722.4 291.0L725.4 290.5L724.3 293.5ZM727.3 289.1L730.0 287.8L729.9 291.0ZM726.5 287.5L729.1 286.2L726.5 284.4ZM731.8 286.5L734.0 284.4L734.9 287.4ZM735.4 283.0L737.5 280.9L738.4 283.9ZM734.1 281.7L736.2 279.6L733.2 278.7ZM738.8 280.1L741.7 279.2L741.1 282.3ZM743.6 278.6L746.4 277.6L745.9 280.8ZM743.0 276.9L745.9 275.9L743.6 273.7ZM748.0 278.6L750.9 279.1L748.9 281.6ZM752.9 279.5L755.8 280.1L753.8 282.6ZM753.2 277.8L756.2 278.3L755.2 275.3ZM757.8 280.5L760.8 281.0L758.9 283.5ZM762.8 281.3L765.7 281.7L763.8 284.2ZM763.0 279.5L766.0 279.9L764.9 276.9ZM767.7 282.0L770.7 282.5L768.8 285.0ZM772.7 282.8L775.6 283.2L773.7 285.8ZM772.9 281.0L775.9 281.4L774.8 278.4ZM777.7 283.2L780.7 283.3L779.1 286.1ZM782.7 283.4L785.7 283.5L784.1 286.3ZM782.8 281.6L785.8 281.7L784.4 278.9ZM787.7 283.6L790.7 283.7L789.1 286.5ZM792.7 283.8L795.7 284.0L794.1 286.7ZM792.8 282.0L795.8 282.2L794.4 279.3Z" fill="#a80000"/>
<path d="M255.1 392.8 L267.0 387.7 L284.0 380.1 L300.9 369.0 L307.7 364.8 L315.0 370.0 L322.2 376.7 L328.1 378.4 L333.2 367.4 L339.1 364.0 L351.9 359.7 L370.0 355.5 L393.3 346.0 L413.7 340.2 L440.0 334.0 L454.7 331.0 L460.0 333.0 L464.9 336.0 L470.0 332.0 L500.0 325.0 L530.0 318.0 L560.0 314.0 L597.9 306.1 L602.0 309.0 L606.1 313.3 L611.0 309.0 L616.4 306.1 L667.7 295.9 L672.0 300.0 L677.9 303.1 L684.0 299.0 L688.2 297.9 L707.0 292.4 L724.0 289.8 L730.7 286.4 L737.5 279.6 L745.2 277.1 L757.9 279.6 L774.9 282.2 L794.4 283.0" fill="none" stroke="#ff0000" stroke-width="3.4" stroke-linejoin="round" stroke-linecap="butt"/>
<path d="M260.9 350.1L264.7 350.4L262.4 354.0ZM266.5 350.6L270.2 351.0L268.0 354.6ZM272.0 351.1L275.8 351.5L273.6 355.1ZM277.6 351.7L281.4 352.0L279.1 355.6ZM283.2 352.2L287.0 352.6L284.7 356.2ZM288.7 352.8L292.5 353.1L290.3 356.7ZM294.3 353.3L298.1 353.7L295.8 357.3ZM299.9 353.9L303.7 354.2L301.4 357.8Z" fill="#a80000"/>
<path d="M260.2 347.8 L278.0 349.5 L304.3 352.1" fill="none" stroke="#ff0000" stroke-width="6" stroke-linejoin="round" stroke-linecap="butt"/>
<path d="M304.3 352.1 L308.6 363.0 L312.0 356.0 L314.5 352.1" fill="none" stroke="#ff0000" stroke-width="3" stroke-linejoin="round" stroke-linecap="butt"/>
<path d="M315.4 354.3L319.2 354.2L317.4 358.1ZM321.0 354.2L324.8 354.2L323.0 358.0ZM325.7 355.2L329.3 356.5L326.3 359.5ZM331.0 357.0L334.6 358.3L331.6 361.3ZM336.3 358.9L339.9 360.1L336.9 363.1ZM342.1 360.7L345.9 361.1L343.6 364.7ZM347.7 361.3L351.5 361.6L349.2 365.2ZM353.3 361.8L357.0 362.2L354.8 365.8ZM358.8 362.3L362.6 362.7L360.3 366.3ZM364.4 362.9L368.2 363.2L366.0 366.9ZM370.0 363.4L373.8 363.8L371.5 367.4ZM375.6 363.9L379.3 364.3L377.1 367.9ZM381.1 364.5L384.9 364.8L382.7 368.4ZM386.7 365.0L390.5 365.3L388.3 368.9ZM392.3 365.5L396.1 365.8L393.8 369.5ZM397.9 366.0L401.7 366.4L399.4 370.0ZM403.4 366.6L407.2 367.0L404.8 370.6ZM409.0 367.2L412.7 367.7L410.4 371.2ZM414.5 367.9L418.3 368.3L416.0 371.9ZM420.1 368.5L423.9 368.9L421.5 372.5ZM425.6 369.1L429.4 369.6L427.1 373.1ZM431.2 369.8L435.0 370.2L432.7 373.8ZM436.6 370.6L440.4 371.2L437.8 374.6ZM442.1 371.5L445.9 372.2L443.3 375.6Z" fill="#a80000"/>
<path d="M314.5 352.1 L323.0 352.0 L342.1 358.5 L364.6 360.7 L400.0 364.0 L434.2 367.9 L446.0 370.0" fill="none" stroke="#ff0000" stroke-width="6" stroke-linejoin="round" stroke-linecap="butt"/>
<path d="M446.0 370.0 L450.6 385.3 L453.0 376.0 L456.7 370.9" fill="none" stroke="#ff0000" stroke-width="3" stroke-linejoin="round" stroke-linecap="butt"/>
<path d="M457.3 373.2L461.1 373.7L458.7 377.2ZM462.9 373.9L466.7 374.3L464.3 377.9ZM468.4 374.6L472.2 375.0L469.9 378.6ZM474.0 375.2L477.8 375.7L475.4 379.3ZM479.6 375.9L483.3 376.4L481.0 379.9ZM485.1 376.6L488.9 377.1L486.5 380.6ZM490.7 377.3L494.5 377.6L492.3 381.2ZM496.3 377.8L500.1 378.2L497.8 381.8ZM501.9 378.4L505.7 378.7L503.4 382.3ZM507.5 378.9L511.2 379.3L509.0 382.9ZM513.0 379.4L516.8 379.8L514.6 383.4ZM518.5 379.9L522.3 380.4L519.9 383.9ZM524.1 380.7L527.8 381.2L525.4 384.7ZM529.6 381.4L533.4 381.9L531.0 385.5ZM535.2 382.2L538.9 382.7L536.5 386.2ZM540.7 383.0L544.5 383.5L542.1 387.0ZM546.3 383.7L550.0 384.2L547.6 387.7ZM551.7 384.5L555.5 385.2L552.9 388.6ZM557.2 385.5L561.0 386.1L558.5 389.6ZM562.8 386.5L566.5 387.1L564.0 390.5ZM568.3 387.4L572.0 388.1L569.5 391.5ZM573.8 388.4L577.5 389.0L575.0 392.4ZM579.3 389.3L583.0 390.0L580.5 393.4Z" fill="#a80000"/>
<path d="M456.7 370.9 L490.0 375.0 L520.0 377.9 L550.0 382.0 L585.6 388.2" fill="none" stroke="#ff0000" stroke-width="6" stroke-linejoin="round" stroke-linecap="butt"/>
<path d="M585.6 388.2 L590.8 406.5 L594.0 400.0 L597.9 391.0" fill="none" stroke="#ff0000" stroke-width="3.5" stroke-linejoin="round" stroke-linecap="butt"/>
<path d="M598.6 393.3L602.4 393.6L600.1 397.2ZM604.2 393.8L608.0 394.1L605.7 397.8ZM609.7 394.3L613.5 394.7L611.3 398.3ZM615.3 394.8L619.1 395.2L616.9 398.8ZM620.9 395.4L624.7 395.7L622.4 399.3ZM626.5 395.9L630.3 396.2L628.0 399.8ZM632.0 396.5L635.7 397.0L633.3 400.5ZM637.5 397.2L641.3 397.7L638.9 401.2ZM643.1 397.9L646.8 398.4L644.5 401.9ZM648.6 398.7L652.4 399.1L650.0 402.7ZM654.2 399.4L657.9 399.9L655.6 403.4ZM659.7 400.1L663.5 400.6L661.1 404.1ZM665.2 400.9L668.9 401.5L666.5 404.9ZM670.7 401.8L674.5 402.4L672.0 405.8ZM676.2 402.7L680.0 403.3L677.5 406.7ZM681.8 403.6L685.5 404.2L683.0 407.6ZM687.3 404.5L691.1 405.1L688.6 408.5ZM692.9 405.3L696.7 405.8L694.3 409.3ZM698.5 406.0L702.2 406.5L699.9 410.0ZM704.0 406.7L707.8 407.2L705.4 410.7ZM709.6 407.4L713.4 407.9L711.0 411.4ZM715.1 408.1L718.9 408.6L716.6 412.1ZM720.7 408.8L724.5 409.3L722.1 412.8ZM726.5 423.2L730.3 423.4L728.2 427.1ZM732.1 423.5L735.9 423.7L733.8 427.4ZM738.4 408.2L742.2 408.2L740.3 412.0ZM744.0 408.2L747.8 408.2L745.9 412.0ZM749.6 408.2L753.4 408.2L751.5 412.0ZM755.2 408.3L759.0 408.3L757.1 412.1ZM760.8 408.3L764.6 408.3L762.7 412.1ZM766.4 408.3L770.2 408.3L768.3 412.1ZM771.8 408.5L775.6 408.7L773.5 412.4ZM777.4 408.9L781.2 409.1L779.0 412.8ZM783.0 409.3L786.8 409.5L784.6 413.2ZM788.6 409.7L792.4 409.9L790.2 413.6Z" fill="#a80000"/>
<path d="M597.9 391.0 L630.0 394.0 L663.6 398.4 L690.0 402.7 L724.0 407.0 L725.7 421.0 L736.0 421.5 L737.5 406.0 L769.8 406.1 L796.0 408.0" fill="none" stroke="#ff0000" stroke-width="6" stroke-linejoin="round" stroke-linecap="butt"/>
<path d="M255.0 487.2L258.8 487.1L257.0 490.9ZM260.6 487.1L264.4 487.0L262.6 490.8ZM266.2 487.0L270.0 486.9L268.2 490.7ZM271.8 486.9L275.6 486.8L273.8 490.6ZM277.4 486.7L281.2 486.7L279.4 490.5ZM283.0 486.8L286.8 486.9L284.8 490.6ZM288.6 486.9L292.4 487.0L290.4 490.7ZM294.2 487.0L298.0 487.1L296.0 490.9ZM299.7 487.2L303.5 487.3L301.5 491.0ZM305.3 487.3L309.1 487.4L307.1 491.2ZM310.9 487.5L314.7 487.6L312.7 491.3Z" fill="#a80000"/>
<path d="M254.1 485.5 L280.0 485.0 L301.2 485.5 L318.0 486.0" fill="none" stroke="#ff0000" stroke-width="5" stroke-linejoin="round" stroke-linecap="butt"/>
<path d="M318.0 486.0 L320.0 500.0 L323.5 526.0 L328.0 522.0 L331.0 505.0 L333.4 490.0" fill="none" stroke="#ff0000" stroke-width="2.2" stroke-linejoin="round" stroke-linecap="butt"/>
<path d="M335.0 491.1L338.3 489.3L338.5 493.5ZM339.9 488.4L343.3 486.6L343.4 490.9ZM344.9 485.8L348.2 484.0L348.3 488.2ZM349.8 483.1L353.1 481.3L353.3 485.6ZM354.3 481.0L358.0 480.5L356.7 484.5ZM359.8 480.2L363.6 479.6L362.3 483.7ZM365.4 479.4L369.1 478.8L367.8 482.8ZM370.9 478.5L374.7 478.0L373.3 482.0ZM376.4 477.7L380.2 477.2L378.9 481.2ZM382.0 476.9L385.7 476.3L384.4 480.4ZM387.3 476.2L391.1 476.0L389.4 479.9ZM392.9 476.0L396.7 475.8L395.0 479.7ZM398.9 476.0L402.6 475.1L401.6 479.3ZM404.4 474.7L408.1 473.8L407.1 478.0ZM409.8 473.4L413.5 472.5L412.5 476.6ZM415.2 472.1L418.9 471.2L418.0 475.3ZM420.7 470.8L424.4 469.9L423.4 474.0ZM426.1 469.5L429.8 468.6L428.9 472.7ZM431.5 468.4L435.3 467.8L434.0 471.8ZM437.0 467.5L440.8 466.8L439.5 470.9ZM442.6 466.5L446.3 465.9L445.1 470.0ZM448.1 465.6L451.8 465.0L450.6 469.0ZM453.6 464.7L457.3 464.0L456.1 468.1ZM459.1 463.7L462.9 463.1L461.6 467.2Z" fill="#a80000"/>
<path d="M333.4 490.0 L352.9 479.5 L386.6 474.5 L400.0 474.0 L428.3 467.2 L462.2 461.5" fill="none" stroke="#ff0000" stroke-width="5" stroke-linejoin="round" stroke-linecap="butt"/>
<path d="M462.2 461.5 L465.0 475.0 L467.9 493.2 L470.0 480.0 L472.4 462.6" fill="none" stroke="#ff0000" stroke-width="2.2" stroke-linejoin="round" stroke-linecap="butt"/>
<path d="M473.5 464.2L477.3 463.7L475.8 467.7ZM479.1 463.5L482.8 463.1L481.4 467.1ZM484.6 462.9L488.4 462.5L486.9 466.5ZM490.2 462.3L494.0 461.8L492.5 465.8ZM495.7 461.6L499.5 461.2L498.1 465.2ZM501.9 461.0L505.3 459.4L505.3 463.6ZM507.0 458.6L510.4 456.9L510.3 461.1ZM512.0 456.1L515.4 454.4L515.4 458.6ZM516.4 453.5L520.1 453.0L518.7 457.0ZM521.9 452.8L525.7 452.4L524.3 456.4ZM527.5 452.2L531.3 451.7L529.8 455.7ZM533.0 451.5L536.8 451.0L535.4 455.0ZM538.6 450.8L542.4 450.4L540.9 454.4ZM544.4 450.3L548.1 449.4L547.1 453.5ZM549.8 449.0L553.5 448.1L552.6 452.2ZM555.3 447.7L559.0 446.8L558.0 450.9ZM560.7 446.3L564.4 445.5L563.5 449.6ZM566.2 445.0L569.9 444.1L568.9 448.3ZM571.6 443.7L575.3 442.8L574.3 447.0ZM577.0 442.7L580.7 442.0L579.5 446.1ZM582.5 441.8L586.3 441.1L585.0 445.2ZM588.0 440.8L591.8 440.2L590.5 444.3ZM593.5 440.0L597.3 439.5L596.0 443.5ZM599.1 439.2L602.8 438.7L601.5 442.7Z" fill="#a80000"/>
<path d="M472.4 462.6 L501.8 459.2 L517.0 451.7 L545.3 448.3 L573.6 441.5 L590.0 438.8 L602.5 437.0" fill="none" stroke="#ff0000" stroke-width="5" stroke-linejoin="round" stroke-linecap="butt"/>
<path d="M602.5 437.0 L604.8 460.6 L605.6 472.3 L608.7 474.3 L613.3 464.5 L615.7 448.9 L617.2 442.7" fill="none" stroke="#ff0000" stroke-width="2.4" stroke-linejoin="round" stroke-linecap="butt"/>
<path d="M618.5 444.1L622.2 443.1L621.4 447.2ZM623.9 442.6L627.6 441.5L626.8 445.7ZM629.3 441.1L633.0 440.0L632.2 444.2ZM634.7 439.5L638.4 438.5L637.6 442.7ZM640.2 437.1L643.4 435.1L643.8 439.4ZM644.1 434.2L647.9 434.1L646.0 438.0ZM649.7 434.1L653.5 434.0L651.6 437.9ZM655.3 434.0L659.1 433.9L657.2 437.8ZM660.9 433.9L664.7 433.9L662.8 437.7ZM666.5 433.8L670.3 433.8L668.4 437.6Z" fill="#a80000"/>
<path d="M617.2 442.7 L636.7 437.2 L644.5 432.5 L673.3 432.0" fill="none" stroke="#ff0000" stroke-width="5" stroke-linejoin="round" stroke-linecap="butt"/>
<path d="M673.3 432.0 L673.3 437.2 L675.6 450.5 L681.8 458.2 L684.9 453.6 L686.5 439.6 L687.3 433.3" fill="none" stroke="#ff0000" stroke-width="3" stroke-linejoin="round" stroke-linecap="butt"/>
<path d="M688.6 434.7L692.3 433.6L691.6 437.8ZM694.0 433.1L697.7 432.0L696.9 436.2ZM699.3 431.4L703.0 430.5L702.0 434.7ZM704.7 430.1L708.4 429.2L707.5 433.3ZM710.2 428.8L713.9 427.9L712.9 432.0ZM715.8 427.4L719.4 426.0L719.0 430.2ZM721.0 425.3L724.6 423.9L724.2 428.1ZM725.8 423.9L729.6 423.7L727.9 427.6ZM731.4 423.6L735.2 423.4L733.5 427.3ZM737.0 423.3L740.8 423.1L739.1 427.0Z" fill="#a80000"/>
<path d="M687.3 433.3 L700.0 429.5 L715.5 425.7 L724.0 422.3 L740.9 421.4" fill="none" stroke="#ff0000" stroke-width="5" stroke-linejoin="round" stroke-linecap="butt"/>
<path d="M740.9 421.4 L742.6 441.0 L749.4 449.4 L754.5 437.5 L756.2 425.7" fill="none" stroke="#ff0000" stroke-width="3" stroke-linejoin="round" stroke-linecap="butt"/>
<path d="M757.7 426.9L761.2 425.5L760.9 429.7ZM762.9 424.8L766.4 423.4L766.1 427.6ZM768.0 422.7L771.5 421.2L771.2 425.5ZM773.2 420.5L776.7 419.1L776.4 423.3ZM778.3 419.1L782.0 418.3L780.9 422.4ZM783.5 418.0L787.3 417.8L785.7 421.7ZM789.1 417.6L792.9 417.4L791.2 421.3Z" fill="#a80000"/>
<path d="M756.2 425.7 L774.9 418.0 L783.4 416.3 L796.1 415.5" fill="none" stroke="#ff0000" stroke-width="5" stroke-linejoin="round" stroke-linecap="butt"/>
<path d="M261.5 455.1L264.3 456.2L261.9 458.3ZM262.6 452.4L265.4 453.5L265.0 450.3ZM266.2 456.9L269.0 458.0L266.6 460.1ZM270.9 458.7L273.7 459.8L271.3 461.8ZM271.9 456.0L274.7 457.1L274.3 453.9ZM275.5 460.5L278.3 461.5L275.9 463.6ZM280.2 462.3L283.0 463.3L280.6 465.4ZM281.2 459.6L284.0 460.6L283.6 457.5ZM284.9 464.1L287.7 465.1L285.3 467.2ZM289.5 465.8L292.3 466.9L289.9 469.0ZM290.6 463.1L293.4 464.2L293.0 461.1ZM294.2 467.6L297.0 468.7L294.6 470.8ZM298.9 469.4L301.7 470.5L299.3 472.6ZM299.9 466.7L302.7 467.8L302.3 464.6ZM303.7 471.1L306.5 472.0L304.2 474.2ZM308.4 472.6L311.3 473.6L309.0 475.8ZM309.3 469.9L312.2 470.8L311.6 467.7ZM313.2 474.2L316.0 475.1L313.8 477.3ZM317.9 475.7L320.8 476.6L318.5 478.8ZM318.8 472.9L321.7 473.8L321.1 470.7ZM322.7 477.2L325.6 478.1L323.3 480.3ZM327.5 478.7L330.3 479.6L328.1 481.8ZM328.4 476.0L331.2 476.9L330.6 473.7ZM332.2 480.2L335.1 481.1L332.8 483.4ZM337.0 481.8L339.8 482.7L337.5 484.9ZM337.9 479.0L340.7 480.0L340.2 476.9ZM341.7 483.4L344.6 484.3L342.3 486.5ZM346.5 484.9L349.3 485.9L347.0 488.1ZM347.4 482.2L350.2 483.1L349.7 480.0ZM351.2 486.5L354.0 487.5L351.7 489.7ZM356.2 487.9L359.1 488.5L357.1 490.9ZM356.8 485.0L359.7 485.6L358.8 482.6ZM361.1 488.9L364.0 489.4L362.0 491.9ZM366.0 489.8L368.9 490.4L366.9 492.9ZM366.6 487.0L369.5 487.6L368.6 484.5ZM370.9 490.8L373.8 491.4L371.8 493.8ZM375.8 491.8L378.8 492.4L376.7 494.8ZM376.4 488.9L379.3 489.5L378.4 486.5ZM380.8 492.7L383.8 493.2L381.9 495.7ZM385.7 493.5L388.7 493.9L386.8 496.5ZM386.2 490.6L389.1 491.0L388.1 488.1ZM390.7 494.2L393.6 494.6L391.8 497.2ZM395.6 494.9L398.6 495.4L396.7 497.9ZM396.1 492.1L399.0 492.5L397.9 489.5ZM400.6 495.7L403.5 496.1L401.6 498.7ZM405.5 496.4L408.5 496.8L406.6 499.4ZM405.9 493.5L408.9 494.0L407.8 491.0ZM410.5 497.1L413.4 497.6L411.5 500.1ZM415.4 497.9L418.4 498.3L416.5 500.9ZM415.8 495.0L418.8 495.4L417.7 492.5ZM420.5 498.5L423.5 498.7L421.9 501.4ZM425.5 498.8L428.5 498.9L426.9 501.6ZM425.6 495.9L428.6 496.0L427.3 493.1ZM430.5 499.0L433.5 499.1L431.9 501.9ZM435.5 499.2L438.5 499.4L436.9 502.1ZM435.6 496.3L438.6 496.5L437.3 493.6ZM440.5 499.5L443.5 499.6L441.8 502.4ZM445.5 499.7L448.5 499.9L446.8 502.6ZM445.6 496.8L448.6 497.0L447.3 494.1ZM450.5 500.0L453.5 500.1L451.8 502.9ZM455.5 500.2L458.5 500.4L456.8 503.1ZM455.6 497.3L458.6 497.5L457.2 494.6ZM460.5 500.5L463.5 500.6L461.9 503.3ZM465.5 500.6L468.5 500.7L466.9 503.5ZM465.6 497.7L468.6 497.8L467.2 495.0ZM470.5 500.8L473.5 500.9L471.9 503.6ZM475.5 501.0L478.5 501.1L476.9 503.8ZM475.6 498.1L478.6 498.2L477.2 495.3ZM480.5 501.1L483.5 501.2L481.9 504.0ZM485.5 501.3L488.5 501.4L486.9 504.1ZM485.6 498.4L488.6 498.5L487.2 495.6ZM490.5 501.4L493.5 501.5L491.9 504.3ZM495.5 501.6L498.5 501.7L496.9 504.5ZM495.6 498.7L498.6 498.8L497.2 496.0ZM500.7 501.7L503.6 501.4L502.4 504.3ZM505.6 501.2L508.6 500.9L507.4 503.9ZM505.3 498.3L508.3 498.0L506.6 495.4ZM510.6 500.7L513.6 500.4L512.4 503.4ZM515.6 500.2L518.6 499.9L517.3 502.9ZM515.3 497.4L518.3 497.1L516.5 494.4ZM520.6 499.8L523.5 499.5L522.3 502.4ZM525.6 499.0L528.6 498.4L527.6 501.4ZM525.1 496.1L528.0 495.5L526.0 493.1ZM530.5 498.0L533.5 497.4L532.6 500.5ZM535.4 497.0L538.4 496.4L537.5 499.5ZM534.9 494.2L537.8 493.6L535.8 491.1ZM540.3 496.1L543.3 495.5L542.4 498.5ZM545.3 495.1L548.2 494.4L547.5 497.4ZM544.6 492.3L547.5 491.5L545.4 489.2ZM550.2 493.9L553.1 493.1L552.3 496.2ZM555.0 492.6L557.9 491.9L557.2 495.0ZM554.3 489.8L557.2 489.1L555.1 486.7ZM559.9 491.4L562.8 490.7L562.0 493.8ZM564.7 490.2L567.6 489.5L566.9 492.5ZM564.0 487.4L566.9 486.7L564.8 484.3ZM569.5 489.1L572.5 488.5L571.5 491.5ZM574.4 488.1L577.4 487.5L576.4 490.5ZM573.9 485.2L576.8 484.7L574.8 482.2ZM579.3 487.1L582.3 486.5L581.3 489.6ZM584.2 486.1L587.2 485.5L586.2 488.6ZM583.7 483.3L586.6 482.7L584.6 480.2ZM589.1 485.2L592.1 484.6L591.1 487.6ZM594.1 483.5L596.9 482.4L596.5 485.6ZM593.0 480.8L595.8 479.7L593.4 477.7ZM598.8 481.7L601.5 480.5L601.2 483.7ZM603.4 479.8L606.2 478.7L605.8 481.8ZM602.3 477.1L605.1 476.0L602.7 473.9ZM608.0 477.9L610.8 476.8L610.5 480.0ZM612.3 475.9L615.3 475.5L614.2 478.4ZM611.9 473.0L614.8 472.6L612.9 470.0ZM617.2 475.2L620.2 474.7L619.1 477.7ZM622.2 474.4L625.1 474.0L624.1 477.0ZM621.7 471.5L624.7 471.1L622.8 468.6ZM627.1 473.7L630.1 473.2L629.0 476.2ZM632.1 472.9L635.0 472.5L634.0 475.5ZM631.6 470.1L634.6 469.6L632.7 467.1ZM637.0 472.2L640.0 471.8L638.9 474.8ZM641.9 471.5L644.9 471.1L643.8 474.1ZM641.5 468.6L644.5 468.2L642.6 465.6ZM646.9 470.8L649.9 470.4L648.8 473.4ZM651.8 470.1L654.8 469.7L653.7 472.7ZM651.4 467.2L654.4 466.8L652.5 464.3ZM656.8 469.4L659.8 469.0L658.7 472.0ZM661.9 468.4L664.8 467.5L664.2 470.6ZM661.0 465.6L663.9 464.7L661.6 462.5ZM666.7 466.9L669.5 465.9L669.0 469.1ZM671.4 465.3L674.3 464.4L673.7 467.5ZM670.6 462.6L673.4 461.6L671.1 459.4ZM676.2 463.8L679.1 462.9L678.5 466.0ZM681.0 462.2L683.8 461.3L683.3 464.4ZM680.1 459.5L682.9 458.6L680.6 456.4ZM685.7 460.8L688.6 460.0L687.8 463.1ZM690.5 459.5L693.4 458.7L692.7 461.8ZM689.7 456.7L692.6 455.9L690.5 453.6ZM695.3 458.2L698.2 457.4L697.5 460.5ZM700.2 456.9L703.1 456.1L702.3 459.2ZM699.4 454.1L702.3 453.3L700.1 451.0ZM705.0 455.6L707.9 454.9L707.2 457.9ZM709.8 454.3L712.7 453.6L712.0 456.7ZM709.1 451.5L712.0 450.8L709.8 448.4ZM714.7 453.1L717.6 452.3L716.8 455.4ZM719.5 451.8L722.4 451.0L721.7 454.1ZM718.7 449.0L721.6 448.2L719.5 445.9ZM724.3 450.5L727.2 449.7L726.5 452.8ZM729.1 449.2L732.0 448.4L731.3 451.5ZM728.4 446.4L731.3 445.6L729.1 443.3ZM734.0 447.9L736.9 447.1L736.1 450.2ZM738.8 446.6L741.7 445.8L741.0 448.9ZM738.1 443.8L741.0 443.0L738.8 440.7ZM743.6 445.3L746.5 444.6L745.8 447.6ZM748.5 444.1L751.4 443.3L750.6 446.4ZM747.7 441.2L750.6 440.5L748.5 438.2ZM753.3 442.8L756.2 442.0L755.5 445.1ZM758.1 441.5L761.0 440.8L760.3 443.9ZM757.4 438.7L760.3 438.0L758.2 435.6ZM763.0 440.3L765.9 439.5L765.2 442.6ZM767.8 439.0L770.7 438.2L770.0 441.3ZM767.1 436.2L770.0 435.4L767.8 433.1ZM772.7 437.7L775.6 436.9L774.8 440.0ZM777.5 436.4L780.4 435.6L779.7 438.7ZM776.7 433.6L779.6 432.8L777.5 430.5ZM782.3 435.1L785.2 434.3L784.5 437.4ZM787.1 433.8L790.0 433.0L789.3 436.1ZM786.4 431.0L789.3 430.2L787.1 427.9ZM792.0 432.5L794.9 431.7L794.1 434.8Z" fill="#007a00"/>
<path d="M261.1 453.4 L302.1 469.1 L334.7 479.5 L354.2 486.0 L380.3 491.2 L419.4 497.0 L460.0 499.0 L500.0 500.3 L522.6 498.1 L545.3 493.6 L567.9 487.9 L590.5 483.4 L613.2 474.3 L635.8 470.9 L660.0 467.5 L684.1 459.7 L745.6 443.3 L761.4 439.2 L793.5 430.6" fill="none" stroke="#00c400" stroke-width="4.5" stroke-linejoin="round" stroke-linecap="butt"/>
<path d="M261.8 475.0L265.6 475.4L263.3 479.0ZM267.4 475.6L271.2 475.9L268.9 479.5ZM273.0 476.1L276.7 476.4L274.5 480.0ZM278.5 476.6L282.3 477.0L280.1 480.6ZM284.1 477.1L287.9 477.5L285.6 481.1ZM289.7 477.7L293.5 478.0L291.2 481.6ZM295.3 478.2L299.0 478.6L296.8 482.2ZM300.5 478.5L304.1 479.5L301.2 482.6ZM305.9 480.1L309.5 481.1L306.6 484.2ZM311.2 481.7L314.9 482.8L312.0 485.8ZM316.6 483.3L320.2 484.4L317.3 487.5ZM322.0 484.9L325.6 486.0L322.7 489.1ZM327.6 486.6L331.3 487.1L328.9 490.6ZM333.1 487.4L336.9 488.0L334.4 491.5ZM338.7 488.2L342.4 488.8L340.0 492.3ZM344.2 489.1L348.0 489.6L345.5 493.1ZM349.7 489.9L353.5 490.5L351.1 493.9ZM355.2 490.8L358.9 491.5L356.3 494.9ZM360.7 491.9L364.4 492.6L361.8 496.0ZM366.2 493.0L369.9 493.7L367.3 497.1ZM371.7 494.1L375.4 494.8L372.8 498.2ZM377.1 495.2L380.9 495.9L378.3 499.3ZM382.9 496.0L386.6 496.4L384.4 500.0ZM388.4 496.6L392.2 496.9L389.9 500.5ZM394.0 497.1L397.8 497.5L395.5 501.1ZM399.6 497.7L403.4 498.1L401.1 501.7ZM405.2 498.2L408.9 498.6L406.7 502.2ZM410.7 498.8L414.5 499.2L412.2 502.8ZM416.3 499.4L420.1 499.7L417.8 503.3ZM422.0 499.8L425.8 499.9L423.7 503.6ZM427.6 500.0L431.4 500.1L429.3 503.8ZM433.2 500.2L437.0 500.3L434.9 504.1ZM438.8 500.4L442.6 500.6L440.5 504.3ZM444.4 500.6L448.2 500.8L446.1 504.5ZM450.0 500.9L453.8 501.0L451.7 504.7ZM455.6 501.1L459.4 501.2L457.3 505.0ZM461.2 501.3L465.0 501.5L462.9 505.2ZM466.8 501.5L470.6 501.7L468.5 505.4ZM472.4 501.7L476.2 501.9L474.1 505.6ZM478.1 501.8L481.9 501.7L480.1 505.5ZM483.7 501.6L487.5 501.5L485.7 505.4ZM489.3 501.5L493.1 501.3L491.3 505.2ZM494.9 501.3L498.7 501.2L496.9 505.0ZM500.5 501.1L504.3 500.9L502.7 504.8ZM506.1 500.8L509.9 500.5L508.3 504.4ZM511.7 500.4L515.5 500.1L513.9 504.1ZM517.3 500.0L521.1 499.8L519.5 503.7ZM522.9 499.7L526.7 499.4L525.0 503.3ZM528.5 499.3L532.3 499.1L530.6 503.0ZM534.4 498.9L538.1 498.0L537.1 502.2ZM539.8 497.6L543.5 496.7L542.6 500.9ZM545.3 496.3L549.0 495.5L548.0 499.6ZM550.8 495.0L554.4 494.2L553.5 498.3ZM556.2 493.8L559.9 492.9L558.9 497.0ZM561.7 492.5L565.4 491.6L564.4 495.7ZM566.6 490.9L570.4 490.9L568.5 494.8ZM572.2 490.9L576.0 490.9L574.1 494.8ZM577.8 490.9L581.6 490.9L579.7 494.8ZM583.4 490.9L587.2 490.9L585.3 494.8ZM588.9 490.9L592.7 491.1L590.6 494.8ZM594.5 491.2L598.3 491.4L596.2 495.1ZM600.1 491.5L603.9 491.7L601.8 495.4ZM605.7 491.8L609.5 492.0L607.4 495.7ZM611.5 492.2L615.3 492.0L613.6 495.9ZM617.1 491.9L620.9 491.7L619.2 495.6ZM622.7 491.6L626.5 491.4L624.8 495.3ZM628.3 491.4L632.1 491.2L630.4 495.0ZM633.9 491.1L637.7 490.9L636.0 494.7ZM639.5 490.6L643.3 490.3L641.8 494.2ZM645.1 490.1L648.9 489.8L647.3 493.7ZM650.7 489.6L654.5 489.3L652.9 493.2ZM656.3 489.1L660.0 488.8L658.5 492.7ZM661.8 488.6L665.6 488.4L663.9 492.3ZM667.4 488.2L671.2 488.0L669.5 491.9ZM673.0 487.9L676.8 487.6L675.1 491.5ZM678.6 487.5L682.3 487.2L680.7 491.1ZM684.1 487.1L687.9 486.8L686.3 490.7ZM689.7 486.7L693.5 486.4L691.9 490.4ZM695.3 486.3L699.1 486.1L697.5 490.0ZM700.9 485.9L704.7 485.7L703.1 489.6ZM706.5 485.5L710.3 485.3L708.6 489.2ZM712.1 485.2L715.9 484.9L714.2 488.8ZM717.7 484.8L721.4 484.5L719.8 488.4ZM723.2 484.4L727.0 484.1L725.4 488.0ZM728.7 484.2L732.5 484.2L730.7 488.0ZM734.3 484.2L738.1 484.1L736.3 488.0ZM739.9 484.1L743.7 484.1L741.9 487.9ZM745.5 484.1L749.3 484.0L747.5 487.9ZM751.1 484.0L754.9 484.0L753.1 487.8ZM756.7 484.0L760.5 484.0L758.7 487.8ZM762.8 483.6L766.5 482.5L765.7 486.7ZM768.2 482.0L771.8 480.9L771.1 485.1ZM773.6 480.4L777.2 479.3L776.5 483.5ZM778.9 478.8L782.6 477.7L781.8 481.9ZM784.5 477.0L787.9 475.4L787.8 479.6ZM789.6 474.6L793.0 473.0L792.9 477.3Z" fill="#007a00"/>
<path d="M261.1 473.0 L302.1 476.9 L328.2 484.7 L354.2 488.6 L380.3 493.8 L419.4 497.7 L475.0 499.9 L500.0 499.2 L533.9 497.0 L567.9 489.0 L590.5 489.0 L613.2 490.2 L635.8 489.0 L660.0 486.8 L725.1 482.3 L761.4 482.0 L782.8 475.6 L794.5 470.2" fill="none" stroke="#00c400" stroke-width="5.5" stroke-linejoin="round" stroke-linecap="butt"/>
<path d="M265.2 533.5L269.0 533.5L267.2 537.3ZM270.8 533.4L274.6 533.4L272.8 537.2ZM276.4 533.3L280.2 533.2L278.4 537.1ZM281.8 533.5L285.5 533.9L283.2 537.5ZM287.3 534.1L291.1 534.6L288.8 538.1ZM292.8 534.7L296.5 535.3L294.0 538.7ZM298.3 535.6L302.1 536.2L299.6 539.7ZM303.8 536.5L307.6 537.2L305.1 540.6ZM309.9 537.4L313.6 537.1L312.1 541.0ZM315.4 536.9L319.2 536.6L317.7 540.6ZM321.0 536.5L324.8 536.1L323.2 540.1ZM327.1 534.8L330.4 532.9L330.7 537.1ZM331.9 532.0L335.2 530.2L335.3 534.4ZM336.8 529.3L340.1 527.5L340.3 531.8ZM341.7 526.7L345.1 524.9L345.2 529.1ZM346.5 525.0L350.2 524.1L349.2 528.2ZM351.9 523.6L355.6 522.7L354.7 526.9ZM357.4 522.3L361.1 521.4L360.1 525.6ZM362.0 520.3L365.7 521.0L363.1 524.4ZM367.5 521.4L371.2 522.1L368.6 525.5ZM373.0 522.4L376.7 523.2L374.1 526.5ZM379.3 521.7L382.9 520.6L382.2 524.8ZM384.7 520.1L388.3 519.0L387.6 523.2ZM389.9 518.8L393.6 518.1L392.5 522.2ZM395.4 517.7L399.1 517.0L398.0 521.1ZM400.9 516.6L404.6 515.9L403.5 520.0ZM406.4 515.5L410.1 514.8L409.0 518.9ZM411.7 514.8L415.5 514.5L413.8 518.4ZM417.3 514.4L421.1 514.2L419.4 518.1ZM422.9 514.0L426.6 513.8L425.0 517.7ZM428.4 513.7L432.2 513.4L430.6 517.3ZM434.0 513.3L437.8 513.0L436.2 516.9ZM439.6 512.9L443.4 512.6L441.8 516.6ZM445.1 512.6L448.9 512.4L447.2 516.3ZM450.7 512.4L454.5 512.2L452.8 516.1ZM456.3 512.2L460.1 512.0L458.4 515.9ZM461.9 512.0L465.7 511.8L464.0 515.7ZM467.5 511.8L471.3 511.6L469.6 515.5ZM473.1 511.6L476.9 511.4L475.2 515.3ZM478.7 511.4L482.5 511.2L480.8 515.1ZM484.3 511.2L488.1 511.0L486.4 514.9ZM490.4 510.9L494.1 509.8L493.3 514.0ZM495.8 509.3L499.4 508.2L498.7 512.4ZM500.6 507.9L504.4 507.9L502.5 511.8ZM506.2 507.9L510.0 507.9L508.1 511.8ZM511.8 507.9L515.6 507.9L513.7 511.8ZM517.4 507.9L521.2 507.9L519.3 511.8ZM523.0 507.9L526.8 507.9L524.9 511.8ZM528.6 507.9L532.4 507.9L530.5 511.8ZM534.2 507.9L538.0 507.9L536.1 511.8ZM539.8 507.9L543.6 507.9L541.7 511.8ZM545.4 507.9L549.2 507.9L547.3 511.8ZM551.0 507.9L554.8 507.9L552.9 511.8ZM556.6 507.9L560.4 507.9L558.5 511.8ZM562.2 507.9L566.0 507.9L564.1 511.8ZM567.7 507.9L571.5 508.2L569.3 511.9ZM573.3 508.3L577.1 508.6L574.9 512.2ZM578.8 508.7L582.6 509.0L580.5 512.6ZM584.4 509.1L588.2 509.3L586.1 513.0ZM590.0 509.5L593.8 509.7L591.7 513.4ZM595.6 509.8L599.4 510.1L597.2 513.8ZM601.1 510.2L604.9 510.6L602.7 514.2ZM606.7 510.7L610.5 511.1L608.2 514.7ZM612.3 511.3L616.1 511.6L613.8 515.2ZM617.9 511.8L621.6 512.2L619.4 515.8ZM624.3 512.6L627.9 511.4L627.3 515.6ZM629.6 510.9L633.2 509.7L632.6 513.9ZM634.9 509.1L638.5 507.9L637.9 512.1ZM639.9 507.2L643.6 506.5L642.4 510.6ZM645.4 506.1L649.1 505.5L648.0 509.5ZM650.9 505.1L654.7 504.5L653.5 508.5ZM656.4 504.1L660.2 503.5L659.0 507.5ZM661.3 503.7L665.0 504.3L662.5 507.8ZM666.8 504.6L670.5 505.2L668.0 508.7ZM672.3 505.5L676.1 506.2L673.6 509.6ZM677.8 506.5L681.6 507.1L679.1 510.5ZM683.4 507.4L687.1 508.0L684.6 511.5ZM688.9 508.3L692.6 509.0L690.1 512.4ZM694.4 509.3L698.1 509.9L695.6 513.3ZM699.9 510.2L703.7 510.8L701.2 514.3ZM705.7 511.0L709.5 511.1L707.6 514.8ZM711.3 511.1L715.1 511.2L713.1 514.9ZM716.9 511.2L720.7 511.3L718.7 515.1ZM722.5 511.4L726.3 511.4L724.3 515.2ZM728.1 511.5L731.9 511.6L729.9 515.3ZM733.7 511.6L737.5 511.7L735.5 515.5ZM739.6 511.8L743.4 511.4L741.9 515.4ZM745.2 511.2L748.9 510.7L747.5 514.7ZM750.7 510.5L754.5 510.1L753.0 514.1ZM756.3 509.9L760.1 509.5L758.6 513.4ZM761.9 509.2L765.6 508.8L764.2 512.8ZM768.5 508.5L771.5 506.2L772.4 510.3ZM772.9 505.0L775.9 502.7L776.8 506.9ZM777.3 501.6L780.3 499.2L781.2 503.4ZM781.7 498.1L784.7 495.8L785.6 499.9Z" fill="#007a00"/>
<path d="M264.3 531.6 L279.8 531.3 L294.6 533.0 L309.5 535.5 L324.4 534.2 L331.8 529.8 L343.0 523.8 L364.0 518.7 L375.3 520.9 L386.6 517.5 L409.2 513.0 L443.2 510.7 L490.0 509.0 L500.0 506.0 L533.9 506.0 L567.9 506.0 L601.8 508.3 L624.5 510.5 L641.4 504.9 L660.0 501.5 L704.6 509.0 L740.0 509.8 L767.8 506.6 L782.8 494.8 L791.3 479.8 L794.5 471.0" fill="none" stroke="#00c400" stroke-width="5.5" stroke-linejoin="round" stroke-linecap="butt"/>
<path d="M264.1 518.5 L264.3 531.5" fill="none" stroke="#00c400" stroke-width="2.4" stroke-linejoin="round" stroke-linecap="butt"/>
<path d="M273.4 559.8L276.4 559.5L275.2 562.5ZM273.1 557.0L276.1 556.7L274.4 554.0ZM278.4 559.3L281.4 559.0L280.2 562.0ZM283.4 558.8L286.4 558.5L285.2 561.5ZM283.1 556.0L286.1 555.7L284.3 553.0ZM288.2 558.5L291.2 558.6L289.6 561.3ZM293.2 558.7L296.2 558.8L294.6 561.5ZM293.3 555.8L296.3 555.9L294.9 553.0ZM298.2 558.8L301.2 559.0L299.6 561.7ZM303.2 559.0L306.2 559.1L304.6 561.9ZM303.3 556.1L306.3 556.2L304.9 553.4ZM308.5 559.5L311.4 558.9L310.5 561.9ZM313.4 558.5L316.4 558.0L315.4 561.0ZM312.9 555.7L315.8 555.1L313.8 552.7ZM318.3 557.6L321.3 557.1L320.3 560.1ZM323.4 556.8L326.3 556.0L325.5 559.1ZM322.6 554.0L325.5 553.2L323.3 550.9ZM328.2 555.5L331.1 554.7L330.4 557.8ZM333.0 554.2L335.9 553.4L335.2 556.5ZM332.3 551.4L335.2 550.6L333.0 548.3ZM337.9 552.9L340.8 552.1L340.0 555.2ZM342.7 550.9L345.4 549.6L345.3 552.8ZM341.5 548.3L344.2 547.0L341.6 545.2ZM347.2 548.7L349.9 547.4L349.8 550.6ZM351.7 546.5L354.4 545.2L354.3 548.4ZM350.5 543.9L353.1 542.6L350.6 540.8ZM356.2 544.5L359.0 543.2L358.7 546.4ZM360.8 542.4L363.5 541.2L363.3 544.4ZM359.6 539.8L362.3 538.5L359.8 536.6ZM365.3 540.4L368.1 539.1L367.9 542.3ZM369.8 538.7L372.7 538.0L372.0 541.1ZM369.1 535.9L372.0 535.2L369.8 532.8ZM374.6 537.5L377.5 536.7L376.8 539.8ZM379.5 536.2L382.4 535.4L381.6 538.5ZM378.7 533.4L381.6 532.6L379.5 530.3ZM384.5 534.9L387.3 533.8L386.8 537.0ZM389.1 533.1L391.9 532.1L391.5 535.2ZM388.1 530.4L390.9 529.4L388.5 527.3ZM393.8 531.4L396.6 530.3L396.2 533.4ZM398.5 529.6L401.3 528.5L400.9 531.7ZM397.5 526.9L400.3 525.8L397.9 523.7ZM403.2 527.8L406.0 526.8L405.6 529.9ZM407.8 526.1L410.7 525.0L410.2 528.2ZM406.8 523.3L409.6 522.3L407.2 520.2ZM412.3 525.1L415.3 524.9L414.1 527.8ZM417.3 524.7L420.3 524.4L419.1 527.3ZM417.0 521.8L420.0 521.5L418.2 518.8ZM422.3 524.2L425.3 523.9L424.0 526.8ZM427.3 523.7L430.2 523.4L429.0 526.3ZM427.0 520.8L430.0 520.5L428.2 517.9ZM432.2 523.2L435.2 522.9L434.0 525.8ZM437.2 522.7L440.2 522.4L439.0 525.4ZM436.9 519.8L439.9 519.5L438.1 516.9ZM442.2 522.2L445.2 521.9L444.0 524.9ZM447.2 521.7L450.2 521.4L448.9 524.4ZM446.9 518.8L449.9 518.6L448.1 515.9ZM452.2 521.2L455.1 520.9L454.0 523.8ZM457.1 520.7L460.1 520.3L458.9 523.3ZM456.8 517.8L459.8 517.4L458.0 514.8ZM462.1 520.1L465.1 519.8L463.9 522.7ZM467.1 519.5L470.0 519.2L468.9 522.2ZM466.7 516.7L469.7 516.3L467.9 513.7ZM472.0 519.0L475.0 518.6L473.8 521.6ZM477.0 518.4L480.0 518.1L478.8 521.0ZM476.7 515.5L479.7 515.2L477.9 512.6ZM482.0 517.9L485.0 517.5L483.8 520.5ZM486.9 517.3L489.9 517.0L488.7 519.9ZM486.6 514.4L489.6 514.1L487.8 511.5ZM491.5 517.2L494.4 517.8L492.5 520.3ZM496.4 518.1L499.3 518.7L497.4 521.1ZM496.9 515.3L499.9 515.8L498.9 512.8ZM501.4 518.9L504.4 519.2L502.7 521.8ZM506.4 519.4L509.4 519.7L507.6 522.3ZM506.7 516.5L509.7 516.8L508.5 513.9ZM511.4 519.9L514.4 520.2L512.6 522.8ZM516.4 520.4L519.4 520.7L517.6 523.3ZM516.7 517.5L519.6 517.8L518.4 514.9ZM521.3 520.9L524.3 521.2L522.6 523.8ZM526.3 521.4L529.3 521.7L527.5 524.3ZM526.6 518.5L529.6 518.8L528.4 515.9ZM531.3 521.9L534.3 522.2L532.5 524.8ZM536.3 522.4L539.3 522.7L537.5 525.3ZM536.6 519.5L539.5 519.8L538.3 516.9ZM541.2 522.9L544.2 523.2L542.5 525.8ZM546.2 523.4L549.2 523.7L547.4 526.3ZM546.5 520.5L549.5 520.8L548.3 517.9ZM551.2 523.9L554.2 524.2L552.4 526.8ZM556.2 524.4L559.2 524.7L557.4 527.3ZM556.5 521.5L559.4 521.8L558.2 518.9ZM561.1 524.9L564.1 525.2L562.4 527.8ZM566.1 525.4L569.1 525.7L567.3 528.3ZM566.4 522.5L569.4 522.8L568.2 519.9ZM571.1 525.9L574.1 526.2L572.3 528.8ZM576.1 526.4L579.1 526.7L577.3 529.3ZM576.4 523.5L579.3 523.8L578.1 520.9ZM581.0 526.9L584.0 527.2L582.2 529.8ZM586.0 527.4L589.0 527.7L587.2 530.3ZM586.3 524.5L589.3 524.8L588.1 521.9ZM591.0 527.9L594.0 528.1L592.4 530.8ZM596.0 528.2L599.0 528.4L597.3 531.1ZM596.2 525.3L599.2 525.5L597.9 522.6ZM601.0 528.5L604.0 528.7L602.3 531.4ZM606.0 528.9L609.0 529.1L607.3 531.7ZM606.2 526.0L609.2 526.2L607.9 523.3ZM611.0 529.2L614.0 529.4L612.3 532.1ZM616.0 529.5L619.0 529.7L617.3 532.4ZM616.2 526.6L619.2 526.8L617.9 523.9ZM621.0 529.8L624.0 530.0L622.3 532.7ZM625.8 530.3L628.7 530.8L626.8 533.3ZM626.3 527.4L629.3 528.0L628.3 525.0ZM630.7 531.2L633.7 531.7L631.7 534.2ZM635.6 532.1L638.6 532.6L636.6 535.1ZM636.1 529.2L639.1 529.7L638.1 526.7ZM640.6 532.9L643.5 533.5L641.5 536.0ZM645.5 533.8L648.4 534.4L646.5 536.8ZM646.0 531.0L648.9 531.5L648.0 528.5ZM650.4 534.7L653.3 535.2L651.4 537.7ZM655.3 535.6L658.3 536.1L656.3 538.6ZM655.8 532.7L658.8 533.3L657.8 530.2ZM660.2 536.5L663.2 537.0L661.2 539.5ZM665.3 537.2L668.3 537.5L666.5 540.2ZM665.6 534.3L668.6 534.6L667.4 531.7ZM670.3 537.7L673.3 538.0L671.5 540.7ZM675.2 538.2L678.2 538.5L676.5 541.2ZM675.5 535.3L678.5 535.6L677.3 532.7ZM680.2 538.7L683.2 539.0L681.4 541.7ZM685.2 539.2L688.2 539.5L686.4 542.2ZM685.5 536.3L688.5 536.6L687.3 533.7ZM690.2 539.7L693.2 540.0L691.4 542.7ZM695.1 540.2L698.1 540.5L696.4 543.2ZM695.4 537.4L698.4 537.7L697.2 534.7ZM700.1 540.7L703.1 541.0L701.3 543.7ZM705.1 541.2L708.1 541.5L706.3 544.2ZM705.4 538.4L708.4 538.7L707.2 535.7ZM710.1 541.7L713.0 542.0L711.3 544.7ZM715.0 542.2L718.0 542.5L716.3 545.2ZM715.3 539.4L718.3 539.7L717.1 536.7ZM720.0 542.7L723.0 543.0L721.2 545.7ZM725.3 543.2L728.3 542.8L727.2 545.8ZM724.9 540.4L727.9 539.9L726.0 537.4ZM730.3 542.5L733.3 542.1L732.2 545.1ZM735.2 541.8L738.2 541.4L737.1 544.4ZM734.8 539.0L737.8 538.5L735.9 536.0ZM740.1 541.1L743.1 540.9L741.9 543.8ZM745.1 540.7L748.1 540.4L746.9 543.3ZM744.8 537.8L747.8 537.5L746.0 534.8ZM750.1 540.2L753.1 539.9L751.8 542.8ZM755.1 539.7L758.0 539.4L756.8 542.3ZM754.8 536.8L757.8 536.5L756.0 533.9ZM760.0 539.2L763.0 538.9L761.8 541.8ZM765.1 537.0L767.7 535.4L767.9 538.6ZM763.6 534.5L766.1 532.9L763.4 531.4ZM769.4 534.3L771.9 532.7L772.1 535.9ZM773.6 531.7L776.1 530.1L776.4 533.3ZM772.1 529.2L774.6 527.6L771.8 526.0ZM777.8 529.0L780.4 527.4L780.6 530.6Z" fill="#007a00"/>
<path d="M264.3 531.6 L267.0 545.0 L272.3 558.5 L287.2 557.0 L309.5 557.8 L324.4 555.0 L339.3 551.0 L352.6 544.5 L367.3 537.9 L384.3 533.4 L409.2 524.0 L450.0 520.0 L490.0 515.5 L500.0 517.3 L533.9 520.7 L567.9 524.1 L590.5 526.4 L624.5 528.6 L663.6 535.6 L725.1 541.8 L740.0 539.7 L761.4 537.6 L778.5 526.9 L784.9 514.1 L790.3 497.0 L793.5 475.6" fill="none" stroke="#00c400" stroke-width="4.5" stroke-linejoin="round" stroke-linecap="butt"/>
<path d="M793.7 430.6 L793.7 471.0" fill="none" stroke="#00c400" stroke-width="2.2" stroke-linejoin="round" stroke-linecap="butt"/>
<path d="M261.2 629.6L264.5 631.5L260.9 633.8ZM266.0 632.4L269.3 634.3L265.7 636.7ZM270.8 635.2L274.1 637.2L270.6 639.5ZM275.7 638.1L279.0 640.0L275.4 642.3ZM280.5 640.9L283.8 642.8L280.2 645.1ZM285.3 643.8L288.6 645.7L285.0 648.0ZM290.1 646.6L293.4 648.6L289.8 650.9ZM294.9 649.5L298.2 651.5L294.6 653.8ZM299.6 652.2L302.5 654.6L298.7 656.3ZM303.9 655.7L306.9 658.1L303.0 659.9ZM308.3 659.2L311.3 661.6L307.4 663.4ZM313.3 662.4L316.7 664.1L313.4 666.6ZM318.4 664.9L321.8 666.5L318.4 669.1ZM322.8 667.1L325.5 669.8L321.5 671.2ZM326.8 671.1L329.4 673.8L325.4 675.1ZM330.7 675.1L333.4 677.8L329.4 679.1ZM335.3 679.4L338.8 680.9L335.6 683.7ZM340.5 681.5L344.0 682.9L340.8 685.8ZM345.2 683.4L348.1 685.8L344.2 687.5ZM349.5 686.9L352.4 689.4L348.5 691.1ZM353.8 690.5L356.7 692.9L352.8 694.7ZM360.2 693.2L363.5 691.2L363.8 695.4ZM365.1 690.3L368.3 688.3L368.6 692.6ZM377.9 675.4L381.7 675.2L380.0 679.1ZM383.5 675.1L387.3 674.9L385.6 678.8ZM389.1 674.8L392.9 674.6L391.2 678.5ZM394.7 674.5L398.5 674.3L396.8 678.2ZM400.3 674.2L404.1 674.0L402.4 677.9ZM405.9 673.9L409.6 673.6L408.0 677.5ZM411.4 673.5L415.2 673.3L413.6 677.2ZM417.1 673.2L420.8 672.9L419.2 676.9ZM422.6 672.8L426.4 672.6L424.8 676.5ZM428.2 672.5L432.0 672.2L430.4 676.1ZM433.8 672.1L437.6 671.8L436.0 675.8ZM439.4 671.7L443.2 671.5L441.5 675.4ZM445.2 671.3L448.9 670.5L447.8 674.6ZM450.7 670.2L454.4 669.4L453.3 673.5ZM456.2 669.1L459.9 668.3L458.8 672.4ZM461.7 668.0L465.4 667.2L464.3 671.3ZM467.1 667.0L470.9 666.3L469.6 670.4ZM472.7 666.0L476.4 665.4L475.2 669.5ZM478.2 665.1L481.9 664.5L480.7 668.6ZM483.7 664.2L487.5 663.6L486.2 667.6ZM489.2 663.3L493.0 662.7L491.7 666.7ZM494.5 662.3L498.3 662.1L496.6 666.0ZM500.1 662.0L503.9 661.8L502.2 665.7ZM505.7 661.7L509.5 661.5L507.8 665.4ZM511.3 661.4L515.1 661.2L513.4 665.1ZM516.9 661.2L520.7 661.0L519.0 664.9ZM522.7 660.5L526.4 659.8L525.3 663.9ZM528.2 659.5L531.9 658.8L530.8 662.9ZM533.7 658.4L537.5 657.7L536.3 661.8ZM538.4 658.5L542.1 659.4L539.3 662.6ZM543.8 659.8L547.5 660.8L544.8 664.0ZM549.3 661.2L553.0 662.1L550.2 665.3ZM554.7 662.6L558.4 663.5L555.6 666.7ZM559.9 663.8L563.5 665.2L560.3 668.0ZM565.1 665.9L568.6 667.3L565.5 670.1ZM570.3 668.0L573.8 669.4L570.7 672.2ZM575.5 670.0L579.0 671.5L575.9 674.3ZM581.0 672.2L584.6 673.1L581.9 676.4ZM586.4 673.6L590.1 674.5L587.3 677.7ZM591.8 674.9L595.5 675.8L592.8 679.1ZM597.3 676.3L600.9 677.2L598.2 680.4ZM602.7 677.6L606.4 678.5L603.6 681.8ZM608.7 678.3L612.5 678.2L610.7 682.0ZM614.3 678.1L618.1 678.0L616.3 681.8ZM619.9 677.9L623.7 677.7L621.9 681.6ZM625.5 677.7L629.3 677.5L627.5 681.4ZM632.0 678.0L635.4 676.3L635.4 680.6ZM637.0 675.5L640.4 673.8L640.4 678.1ZM642.0 673.0L645.4 671.3L645.4 675.5ZM645.9 670.1L649.7 670.5L647.4 674.1ZM651.5 670.7L655.3 671.0L653.0 674.6ZM657.1 671.2L660.9 671.6L658.6 675.2ZM662.7 671.8L666.4 672.2L664.2 675.8ZM668.9 672.0L672.5 670.9L671.8 675.1ZM674.3 670.4L677.9 669.2L677.2 673.4ZM679.6 668.7L683.2 667.6L682.5 671.8ZM685.0 667.1L688.6 665.9L687.9 670.1ZM690.3 665.4L693.9 664.3L693.2 668.5ZM695.7 663.7L699.3 662.5L698.7 666.7ZM701.0 662.0L704.6 660.7L704.0 665.0ZM706.3 660.2L709.9 659.0L709.3 663.2ZM711.6 658.4L715.2 657.2L714.6 661.4ZM716.9 656.6L720.5 655.4L720.0 659.6ZM722.3 654.8L725.9 653.6L725.3 657.9ZM727.8 652.0L730.6 649.5L731.7 653.6ZM732.0 648.3L734.8 645.7L735.9 649.8ZM736.1 644.5L739.0 642.0L740.1 646.1ZM740.3 640.8L743.1 638.2L744.2 642.3ZM744.5 637.0L747.3 634.5L748.4 638.6ZM748.6 634.1L752.0 632.4L752.0 636.7ZM753.6 631.6L757.0 629.9L757.0 634.1ZM758.6 629.1L762.0 627.4L762.0 631.6ZM763.6 626.6L767.0 624.9L767.0 629.1ZM783.7 600.3L787.5 599.6L786.3 603.7ZM789.2 599.2L793.0 598.5L791.8 602.6Z" fill="#dc9a28"/>
<path d="M261.3 627.6 L280.7 638.9 L301.2 651.2 L311.4 659.4 L323.7 665.5 L336.0 677.8 L346.2 681.9 L358.5 692.1 L368.7 686.0 L376.9 673.7 L413.7 671.6 L444.4 669.6 L464.9 665.5 L495.6 660.4 L520.0 659.2 L536.4 656.1 L561.0 662.3 L581.5 670.5 L606.1 676.6 L632.8 675.6 L647.2 668.4 L667.7 670.5 L694.3 662.3 L725.1 652.0 L745.6 633.6 L766.1 623.3 L776.4 606.9 L782.5 598.7 L792.8 596.7" fill="none" stroke="#fbb43a" stroke-width="5.2" stroke-linejoin="round" stroke-linecap="butt"/>
<path d="M262.3 745.3 L266.4 726.9 L268.4 712.6 L274.6 702.3" fill="none" stroke="#fbb43a" stroke-width="2.0" stroke-linejoin="round" stroke-linecap="butt"/>
<path d="M275.8 703.7L279.5 703.0L278.4 707.1ZM281.3 702.6L285.0 701.9L283.9 706.0ZM287.1 700.1L289.6 697.2L291.2 701.1ZM290.8 695.8L293.3 692.9L294.9 696.8ZM294.4 691.6L296.9 688.7L298.5 692.6ZM322.9 648.4L326.6 647.3L325.8 651.5ZM328.3 646.7L331.9 645.6L331.2 649.8ZM333.6 645.1L337.3 644.0L336.6 648.2ZM339.0 643.5L342.6 642.4L341.9 646.6ZM344.0 642.4L347.8 642.3L346.1 646.1ZM349.6 642.2L353.4 642.0L351.7 645.9ZM355.2 642.0L359.0 641.8L357.3 645.7ZM360.8 641.7L364.6 641.6L362.9 645.5Z" fill="#dc9a28"/>
<path d="M274.6 702.3 L284.8 700.3 L297.1 686.0 L303.2 675.7 L311.4 661.4 L321.6 647.1 L342.1 640.9 L366.7 639.9" fill="none" stroke="#fbb43a" stroke-width="4.8" stroke-linejoin="round" stroke-linecap="butt"/>
<path d="M367.5 640.0 L367.5 576.0" fill="none" stroke="#fbb43a" stroke-width="2.4" stroke-linejoin="round" stroke-linecap="butt"/>
<path d="M370.9 902.6 L373.3 846.7 L375.6 763.0 L377.9 767.7 L381.4 797.9 L386.0 739.8 L388.4 715.3 L391.9 707.2 L401.2 703.7 L419.8 706.0 L440.7 688.6 L447.7 693.3 L452.3 714.2 L455.8 732.8 L466.3 736.3 L477.9 750.2 L482.6 814.2 L489.5 870.0 L495.3 790.9 L500.0 721.2 L503.5 714.2 L510.5 714.2 L515.1 756.0 L520.9 823.5 L525.6 784.0 L531.4 742.1 L537.2 724.7 L545.3 710.7 L557.0 708.4 L568.6 716.5 L580.2 720.0 L584.9 725.8 L595.3 711.9 L603.5 717.7 L612.8 717.7 L617.4 725.8 L627.9 763.0 L630.8 800.0 L633.3 826.7 L795.3 881.1" fill="none" stroke="#f8b440" stroke-width="1.9" stroke-linejoin="round" stroke-linecap="butt"/>
<path d="M371.9 535.0L374.8 532.5L375.8 536.7ZM387.4 528.2L391.2 528.4L389.1 532.1ZM393.0 528.5L396.8 528.7L394.7 532.4ZM398.6 528.8L402.4 529.0L400.3 532.7ZM404.2 529.1L408.0 529.2L405.9 532.9ZM409.7 529.4L413.5 529.7L411.3 533.3ZM415.3 529.8L419.1 530.2L416.9 533.8ZM420.9 530.3L424.7 530.6L422.5 534.3ZM426.5 530.8L430.3 531.1L428.0 534.7ZM432.1 531.3L435.8 531.6L433.6 535.2ZM437.6 531.7L441.4 532.1L439.2 535.7ZM443.2 532.2L447.0 532.6L444.8 536.2ZM455.4 541.8L459.2 541.8L457.3 545.6ZM461.0 541.8L464.8 541.8L462.9 545.6ZM465.7 542.0L468.9 543.9L465.4 546.2ZM470.5 544.8L473.8 546.8L470.2 549.1ZM475.3 547.6L478.5 549.7L474.8 551.8ZM480.0 550.7L483.2 552.7L479.5 554.9ZM484.7 553.7L487.9 555.8L484.2 557.9ZM501.4 526.6L505.0 525.2L504.6 529.4ZM533.2 535.6L536.8 534.4L536.2 538.6ZM538.5 533.9L542.1 532.7L541.5 536.9ZM543.6 532.7L547.4 532.3L545.9 536.3ZM549.2 532.1L552.9 531.6L551.5 535.6ZM554.7 531.4L558.5 531.0L557.1 535.0ZM560.3 530.8L564.1 530.3L562.6 534.3ZM565.8 530.1L569.6 529.7L568.2 533.7ZM571.3 529.5L575.1 529.2L573.5 533.1ZM576.9 529.0L580.7 528.7L579.1 532.7ZM582.5 528.6L586.3 528.3L584.7 532.2ZM588.1 528.1L591.9 527.8L590.3 531.8ZM593.7 527.7L597.5 527.4L595.9 531.3ZM599.3 527.2L603.0 526.9L601.5 530.9ZM603.9 527.9L607.5 529.3L604.3 532.1ZM609.1 530.0L612.7 531.4L609.5 534.2ZM614.3 532.1L617.9 533.5L614.7 536.3ZM619.5 534.1L623.1 535.5L619.9 538.4ZM623.2 537.0L625.5 539.9L621.4 540.8ZM626.7 541.3L629.0 544.3L624.9 545.2ZM643.2 594.8L646.7 596.3L643.5 599.1ZM648.4 597.0L651.9 598.4L648.7 601.2ZM653.6 599.1L657.1 600.5L653.9 603.3ZM658.9 601.3L662.6 602.4L659.7 605.5ZM664.3 602.9L667.9 603.9L665.1 607.1ZM669.7 604.4L673.3 605.5L670.4 608.6ZM675.1 606.0L678.7 607.0L675.8 610.2ZM680.4 607.5L684.1 608.6L681.2 611.7ZM686.8 607.6L690.3 606.3L689.9 610.5ZM692.0 605.7L695.6 604.3L695.1 608.6ZM697.3 603.7L700.8 602.4L700.4 606.6ZM702.6 601.6L706.0 600.1L705.8 604.4ZM707.7 599.4L711.2 597.9L710.9 602.2ZM712.8 597.2L716.3 595.7L716.1 599.9ZM717.8 595.8L721.5 595.3L720.2 599.3ZM723.3 595.0L727.1 594.5L725.7 598.5ZM728.8 594.2L732.6 593.7L731.3 597.7ZM734.4 593.4L738.2 592.9L736.8 596.9ZM739.7 592.6L743.5 592.5L741.7 596.4ZM745.3 592.5L749.1 592.4L747.3 596.3ZM750.9 592.4L754.7 592.3L752.9 596.2ZM756.5 592.3L760.3 592.2L758.5 596.0ZM762.1 592.2L765.9 592.1L764.1 595.9ZM767.2 592.5L770.9 593.5L768.0 596.7ZM772.6 594.0L776.2 595.1L773.4 598.2ZM778.0 595.6L781.6 596.6L778.7 599.8ZM782.8 597.2L786.1 599.2L782.5 601.4ZM787.6 600.1L790.9 602.1L787.3 604.3Z" fill="#dc9a28"/>
<path d="M370.2 534.4 L375.3 530.0 L380.9 542.0 L386.6 526.6 L409.2 527.7 L448.8 531.1 L454.5 540.2 L465.8 540.2 L477.1 546.9 L487.3 553.5 L493.7 543.3 L500.0 525.5 L506.4 522.9 L512.7 535.6 L520.4 553.5 L525.5 545.8 L531.8 534.4 L540.5 531.5 L570.0 528.0 L602.0 525.4 L622.5 533.6 L630.7 543.8 L639.0 570.5 L643.0 593.0 L660.0 600.0 L684.1 606.9 L700.0 601.0 L714.8 594.6 L740.0 591.0 L766.1 590.5 L782.8 595.3 L793.5 601.8" fill="none" stroke="#fbb43a" stroke-width="4.8" stroke-linejoin="round" stroke-linecap="butt"/>
<path d="M794.6 548.0 L794.6 601.8" fill="none" stroke="#fbb43a" stroke-width="2.4" stroke-linejoin="round" stroke-linecap="butt"/>
<path d="M788.7 574.6 L794.8 547.9" fill="none" stroke="#fbb43a" stroke-width="2.4" stroke-linejoin="round" stroke-linecap="butt"/>
<path d="M251.3 392.6L255.5 388.4L259.7 392.6L255.5 396.8Z" fill="#ff0000"/>
<path d="M257.9 233.6L261.5 230.0L265.1 233.6L261.5 237.2Z" fill="#ff0000"/>
<path d="M258.0 305.4L261.8 301.6L265.6 305.4L261.8 309.2Z" fill="#0000cc"/>
<path d="M258.2 453.4L261.6 450.0L265.0 453.4L261.6 456.8Z" fill="#00c400"/>
<path d="M259.8 515H268.4L264.1 522.5Z" fill="#00c400"/>
<path d="M258.3 931.9H264.7L261.5 937.3Z" fill="#10108a"/>
<path d="M257.5 786.9H263.5L260.5 792.0Z" fill="#10108a"/>
<path d="M261.9 780.2H267.1L264.5 784.6Z" fill="#10108a"/>
<path d="M271.0 787.3H275.4L273.2 791.0Z" fill="#10108a"/>
<path d="M276.4 614.3H282.4L279.4 619.4Z" fill="#0000cc"/>
<path d="M282.0 577.6H287.2L284.6 582.0Z" fill="#0000cc"/>
<path d="M285.7 607.4H290.9L288.3 611.8Z" fill="#0000cc"/>
<path d="M367.9 900.5H373.9L370.9 905.6Z" fill="#fbb43a"/>
<path d="M259.5 743.3H265.1L262.3 748.1Z" fill="#fbb43a"/>
<path d="M630.7 824.7H636.3L633.5 829.5Z" fill="#fbb43a"/>
<path d="M792.5 879.1H798.1L795.3 883.9Z" fill="#fbb43a"/>
<path d="M373.4 761.5H377.8L375.6 765.2Z" fill="#fbb43a"/>
<path d="M379.2 796.4H383.6L381.4 800.1Z" fill="#fbb43a"/>
<path d="M487.3 868.5H491.7L489.5 872.2Z" fill="#fbb43a"/>
<path d="M518.7 822.0H523.1L520.9 825.7Z" fill="#fbb43a"/>
<path d="M371.3 845.3H375.3L373.3 848.7Z" fill="#f5ab30"/>
<path d="M373.6 761.6H377.6L375.6 765.0Z" fill="#f5ab30"/>
<path d="M375.9 766.3H379.9L377.9 769.7Z" fill="#f5ab30"/>
<path d="M379.4 796.5H383.4L381.4 799.9Z" fill="#f5ab30"/>
<path d="M384.0 738.4H388.0L386.0 741.8Z" fill="#f5ab30"/>
<path d="M386.4 713.9H390.4L388.4 717.3Z" fill="#f5ab30"/>
<path d="M389.9 705.8H393.9L391.9 709.2Z" fill="#f5ab30"/>
<path d="M399.2 702.3H403.2L401.2 705.7Z" fill="#f5ab30"/>
<path d="M417.8 704.6H421.8L419.8 708.0Z" fill="#f5ab30"/>
<path d="M438.7 687.2H442.7L440.7 690.6Z" fill="#f5ab30"/>
<path d="M445.7 691.9H449.7L447.7 695.3Z" fill="#f5ab30"/>
<path d="M450.3 712.8H454.3L452.3 716.2Z" fill="#f5ab30"/>
<path d="M453.8 731.4H457.8L455.8 734.8Z" fill="#f5ab30"/>
<path d="M464.3 734.9H468.3L466.3 738.3Z" fill="#f5ab30"/>
<path d="M475.9 748.8H479.9L477.9 752.2Z" fill="#f5ab30"/>
<path d="M480.6 812.8H484.6L482.6 816.2Z" fill="#f5ab30"/>
<path d="M487.5 868.6H491.5L489.5 872.0Z" fill="#f5ab30"/>
<path d="M493.3 789.5H497.3L495.3 792.9Z" fill="#f5ab30"/>
<path d="M498.0 719.8H502.0L500.0 723.2Z" fill="#f5ab30"/>
<path d="M501.5 712.8H505.5L503.5 716.2Z" fill="#f5ab30"/>
<path d="M508.5 712.8H512.5L510.5 716.2Z" fill="#f5ab30"/>
<path d="M513.1 754.6H517.1L515.1 758.0Z" fill="#f5ab30"/>
<path d="M518.9 822.1H522.9L520.9 825.5Z" fill="#f5ab30"/>
<path d="M523.6 782.6H527.6L525.6 786.0Z" fill="#f5ab30"/>
<path d="M529.4 740.7H533.4L531.4 744.1Z" fill="#f5ab30"/>
<path d="M535.2 723.3H539.2L537.2 726.7Z" fill="#f5ab30"/>
<path d="M543.3 709.3H547.3L545.3 712.7Z" fill="#f5ab30"/>
<path d="M555.0 707.0H559.0L557.0 710.4Z" fill="#f5ab30"/>
<path d="M566.6 715.1H570.6L568.6 718.5Z" fill="#f5ab30"/>
<path d="M578.2 718.6H582.2L580.2 722.0Z" fill="#f5ab30"/>
<path d="M582.9 724.4H586.9L584.9 727.8Z" fill="#f5ab30"/>
<path d="M593.3 710.5H597.3L595.3 713.9Z" fill="#f5ab30"/>
<path d="M601.5 716.3H605.5L603.5 719.7Z" fill="#f5ab30"/>
<path d="M610.8 716.3H614.8L612.8 719.7Z" fill="#f5ab30"/>
<path d="M615.4 724.4H619.4L617.4 727.8Z" fill="#f5ab30"/>
<path d="M625.9 761.6H629.9L627.9 765.0Z" fill="#f5ab30"/>
<path d="M628.8 798.6H632.8L630.8 802.0Z" fill="#f5ab30"/>
<path d="M631.3 825.3H635.3L633.3 828.7Z" fill="#f5ab30"/>
<path d="M261.4 910.3H265.4L263.4 913.7Z" fill="#10108a"/>
<path d="M263.4 883.0H267.4L265.4 886.4Z" fill="#10108a"/>
<path d="M266.3 855.7H270.3L268.3 859.1Z" fill="#10108a"/>
<path d="M268.2 826.4H272.2L270.2 829.8Z" fill="#10108a"/>
<path d="M270.2 797.1H274.2L272.2 800.5Z" fill="#10108a"/>
<path d="M271.2 787.4H275.2L273.2 790.8Z" fill="#10108a"/>
<path d="M273.1 765.9H277.1L275.1 769.3Z" fill="#10108a"/>
<path d="M274.1 738.6H278.1L276.1 742.0Z" fill="#10108a"/>
<path d="M275.9 725.0H279.9L277.9 728.4Z" fill="#10108a"/>
<path d="M277.4 702.7H281.4L279.4 706.1Z" fill="#10108a"/>
<path d="M278.9 675.9H282.9L280.9 679.3Z" fill="#10108a"/>
<path d="M281.1 652.1H285.1L283.1 655.5Z" fill="#10108a"/>
<path d="M282.6 634.3H286.6L284.6 637.7Z" fill="#10108a"/>
<path d="M285.6 625.4H289.6L287.6 628.8Z" fill="#10108a"/>
<path d="M286.3 613.6H290.3L288.3 617.0Z" fill="#10108a"/>
<path d="M287.8 607.5H291.8L289.8 610.9Z" fill="#10108a"/>
<path d="M291.5 598.1H295.5L293.5 601.5Z" fill="#10108a"/>
<path d="M295.3 590.7H299.3L297.3 594.1Z" fill="#10108a"/>
<path d="M301.2 585.5H305.2L303.2 588.9Z" fill="#10108a"/>
<path d="M265.3 758.1H269.3L267.3 761.5Z" fill="#10108a"/>
<path d="M267.3 738.6H271.3L269.3 742.0Z" fill="#10108a"/>
<path d="M268.5 717.6H272.5L270.5 721.0Z" fill="#10108a"/>
<path d="M270.0 707.2H274.0L272.0 710.6Z" fill="#10108a"/>
<path d="M271.9 693.8H275.9L273.9 697.2Z" fill="#10108a"/>
<path d="M273.7 655.1H277.7L275.7 658.5Z" fill="#10108a"/>
<path d="M275.9 634.3H279.9L277.9 637.7Z" fill="#10108a"/>
<path d="M277.4 615.0H281.4L279.4 618.4Z" fill="#10108a"/>
<path d="M278.1 604.1H282.1L280.1 607.5Z" fill="#10108a"/>
<path d="M280.4 589.2H284.4L282.4 592.6Z" fill="#10108a"/>
<path d="M282.6 578.0H286.6L284.6 581.4Z" fill="#10108a"/>
<path d="M284.8 569.9H288.8L286.8 573.3Z" fill="#10108a"/>
<path d="M287.8 563.2H291.8L289.8 566.6Z" fill="#10108a"/>
<path d="M290.0 558.7H294.0L292.0 562.1Z" fill="#10108a"/>
<path d="M293.8 551.2H297.8L295.8 554.6Z" fill="#10108a"/>
<path d="M267.5 409.3 L269.0 407.8 L274.3 403.0 L279.6 398.2 L284.9 393.5 L290.2 388.9 L295.5 384.3 L300.8 379.7 L306.1 375.2 L311.4 370.8 L316.7 366.4 L322.0 362.0 L327.3 357.7 L332.6 353.5 L337.9 349.3 L343.2 345.1 L348.5 341.0 L353.8 336.9 L359.1 332.9 L364.4 328.9 L369.7 325.0 L375.0 321.0 L380.3 317.2 L385.6 313.3 L390.9 309.5 L396.2 305.8 L401.5 302.0 L406.8 298.3 L412.1 294.7 L417.4 291.1 L422.7 287.5 L428.0 283.9 L433.3 280.4 L438.5 276.9 L443.8 273.4 L449.1 270.0 L454.4 266.6 L459.7 263.2 L465.0 259.9 L470.3 256.6 L475.6 253.3 L480.9 250.0 L486.2 246.8 L491.5 243.6 L496.8 240.4 L502.1 237.2 L507.4 234.1 L512.7 231.0 L518.0 227.9 L523.3 224.8 L528.6 221.8 L533.9 218.8 L539.2 215.8 L544.5 212.8 L549.8 209.9 L555.1 206.9 L560.4 204.0 L565.7 201.2 L571.0 198.3 L576.3 195.5 L581.6 192.6 L586.9 189.8 L592.2 187.1 L597.5 184.3 L602.8 181.6 L608.1 178.8 L613.4 176.1 L618.7 173.5 L623.9 170.8 L629.2 168.1 L634.5 165.5 L639.8 162.9 L645.1 160.3 L650.4 157.7 L655.7 155.2 L661.0 152.6 L666.3 150.1 L671.6 147.6 L676.9 145.1 L682.2 142.6 L687.5 140.1 L692.8 137.7 L698.1 135.3 L703.4 132.8 L708.7 130.4 L714.0 128.0 L719.3 125.7 L724.6 123.3 L729.9 121.0 L735.2 118.6 L740.5 116.3 L745.8 114.0 L751.1 111.7 L756.4 109.4 L761.7 107.2 L767.0 104.9 L772.3 102.7 L777.6 100.4 L782.9 98.2 L788.2 96.0 L793.5 93.8" fill="none" stroke="#fbb43a" stroke-width="16.3" stroke-linejoin="round" stroke-linecap="butt"/>
<path d="M255.5 420.8H273.5L275.1 413.1L264.1 401.1L261.9 403.1Z" fill="#fbb43a"/>
<path d="M786 102.5H803L795 84.5Z" fill="#fbb43a"/>
<g stroke="#000" stroke-width="2.4" fill="none" stroke-linecap="butt">
<path d="M148.3 52.4H910.6M148.3 957.8H910.6M157.8 51.199999999999996V968.6M899.4 51.199999999999996V968.6"/>
<path d="M157.8 263.3h6M157.8 210.2h6M157.8 172.5h6M157.8 143.3h6M157.8 119.4h6M157.8 99.1h6M157.8 81.6h6M157.8 66.2h6M157.8 565.1h6M157.8 512.0h6M157.8 474.3h6M157.8 445.1h6M157.8 421.2h6M157.8 400.9h6M157.8 383.4h6M157.8 368.0h6M157.8 866.9h6M157.8 813.8h6M157.8 776.1h6M157.8 746.9h6M157.8 723.0h6M157.8 702.7h6M157.8 685.2h6M157.8 669.8h6" stroke-width="2.2"/>
<path d="M148.3 354.2H157.8M148.3 656.0H157.8" stroke-width="2.4"/>
<path d="M899.4 685.2h-6M899.4 525.8h-6M899.4 412.7h-6M899.4 325.0h-6M899.4 253.3h-6M899.4 192.6h-6M899.4 140.1h-6M899.4 93.8h-6" stroke-width="2.2"/>
<path d="M157.8 944V968.6M179.0 957.8v-7M200.2 957.8v-7M221.4 957.8v-7M242.6 957.8v-7M263.7 944V968.6M284.9 957.8v-7M306.1 957.8v-7M327.3 957.8v-7M348.5 957.8v-7M369.7 944V968.6M390.9 957.8v-7M412.1 957.8v-7M433.3 957.8v-7M454.4 957.8v-7M475.6 944V968.6M496.8 957.8v-7M518.0 957.8v-7M539.2 957.8v-7M560.4 957.8v-7M581.6 944V968.6M602.8 957.8v-7M623.9 957.8v-7M645.1 957.8v-7M666.3 957.8v-7M687.5 944V968.6M708.7 957.8v-7M729.9 957.8v-7M751.1 957.8v-7M772.3 957.8v-7M793.5 944V968.6M814.6 957.8v-7M835.8 957.8v-7M857.0 957.8v-7M878.2 957.8v-7M899.4 944V968.6" stroke-width="2.2"/>
</g>
<g stroke="#fff" stroke-width="0.8" stroke-linejoin="round">
<path d="M98.71 72.80L95.58 72.80L95.58 52.92C94.38 54.09 92.60 55.16 89.37 56.75L89.37 53.74C92.60 52.21 95.09 50.08 96.68 47.38L98.71 47.38Z" fill="#16162a"/>
<text x="105.24" y="72.8" font-size="35.5" font-weight="normal" fill="#16162a" >0</text>
</g>
<g stroke="#fff" stroke-width="0.8" stroke-linejoin="round">
<text x="126.50" y="45.0" font-size="26" font-weight="normal" fill="#16162a" >2</text>
</g>
<g stroke="#fff" stroke-width="0.8" stroke-linejoin="round">
<path d="M98.71 376.00L95.58 376.00L95.58 356.12C94.38 357.29 92.60 358.36 89.37 359.95L89.37 356.94C92.60 355.41 95.09 353.28 96.68 350.58L98.71 350.58Z" fill="#16162a"/>
<text x="105.24" y="376.0" font-size="35.5" font-weight="normal" fill="#16162a" >0</text>
</g>
<g stroke="#fff" stroke-width="0.8" stroke-linejoin="round">
<path d="M136.17 348.00L133.88 348.00L133.88 333.44C133.00 334.30 131.70 335.08 129.33 336.25L129.33 334.04C131.70 332.92 133.52 331.36 134.69 329.38L136.17 329.38Z" fill="#16162a"/>
</g>
<g stroke="#fff" stroke-width="0.8" stroke-linejoin="round">
<path d="M98.71 677.20L95.58 677.20L95.58 657.32C94.38 658.49 92.60 659.56 89.37 661.15L89.37 658.14C92.60 656.61 95.09 654.48 96.68 651.78L98.71 651.78Z" fill="#16162a"/>
<text x="105.24" y="677.2" font-size="35.5" font-weight="normal" fill="#16162a" >0</text>
</g>
<g stroke="#fff" stroke-width="0.8" stroke-linejoin="round">
<text x="126.50" y="649.3" font-size="26" font-weight="normal" fill="#16162a" >0</text>
</g>
<g stroke="#fff" stroke-width="0.8" stroke-linejoin="round">
<path d="M90.21 980.00L87.08 980.00L87.08 960.12C85.88 961.29 84.10 962.36 80.87 963.95L80.87 960.94C84.10 959.41 86.59 957.28 88.18 954.58L90.21 954.58Z" fill="#16162a"/>
<text x="96.74" y="980.0" font-size="35.5" font-weight="normal" fill="#16162a" >0</text>
</g>
<g stroke="#fff" stroke-width="0.8" stroke-linejoin="round">
<rect x="119.19" y="941.99" width="5.46" height="2.21" fill="#16162a"/>
<path d="M137.57 950.00L135.28 950.00L135.28 935.44C134.40 936.30 133.10 937.08 130.73 938.25L130.73 936.04C133.10 934.92 134.92 933.36 136.09 931.38L137.57 931.38Z" fill="#16162a"/>
</g>
<g stroke="#fff" stroke-width="0.8" stroke-linejoin="round">
<path d="M929.21 73.00L926.08 73.00L926.08 53.12C924.88 54.29 923.10 55.36 919.87 56.95L919.87 53.94C923.10 52.41 925.59 50.28 927.18 47.58L929.21 47.58Z" fill="#16162a"/>
<text x="935.74" y="73" font-size="35.5" font-weight="normal" fill="#16162a" >0</text>
</g>
<g stroke="#fff" stroke-width="0.8" stroke-linejoin="round">
<text x="956.50" y="44.3" font-size="26" font-weight="normal" fill="#16162a" >2</text>
</g>
<g stroke="#fff" stroke-width="0.8" stroke-linejoin="round">
<path d="M929.21 979.80L926.08 979.80L926.08 959.92C924.88 961.09 923.10 962.16 919.87 963.75L919.87 960.74C923.10 959.21 925.59 957.08 927.18 954.38L929.21 954.38Z" fill="#16162a"/>
<text x="935.74" y="979.8" font-size="35.5" font-weight="normal" fill="#16162a" >0</text>
</g>
<g stroke="#fff" stroke-width="0.8" stroke-linejoin="round">
<path d="M965.67 949.60L963.38 949.60L963.38 935.04C962.50 935.90 961.20 936.68 958.83 937.85L958.83 935.64C961.20 934.52 963.02 932.96 964.19 930.98L965.67 930.98Z" fill="#16162a"/>
</g>
<g stroke="#fff" stroke-width="0.8" stroke-linejoin="round">
<text x="136.58" y="1008.3" font-size="36" font-weight="normal" fill="#16162a" >3</text>
<text x="156.60" y="1008.3" font-size="36" font-weight="normal" fill="#16162a" >0</text>
</g>
<g stroke="#fff" stroke-width="0.8" stroke-linejoin="round">
<text x="242.53" y="1008.3" font-size="36" font-weight="normal" fill="#16162a" >4</text>
<text x="262.54" y="1008.3" font-size="36" font-weight="normal" fill="#16162a" >0</text>
</g>
<g stroke="#fff" stroke-width="0.8" stroke-linejoin="round">
<text x="348.47" y="1008.3" font-size="36" font-weight="normal" fill="#16162a" >5</text>
<text x="368.49" y="1008.3" font-size="36" font-weight="normal" fill="#16162a" >0</text>
</g>
<g stroke="#fff" stroke-width="0.8" stroke-linejoin="round">
<text x="454.41" y="1008.3" font-size="36" font-weight="normal" fill="#16162a" >6</text>
<text x="474.43" y="1008.3" font-size="36" font-weight="normal" fill="#16162a" >0</text>
</g>
<g stroke="#fff" stroke-width="0.8" stroke-linejoin="round">
<text x="560.36" y="1008.3" font-size="36" font-weight="normal" fill="#16162a" >7</text>
<text x="580.37" y="1008.3" font-size="36" font-weight="normal" fill="#16162a" >0</text>
</g>
<g stroke="#fff" stroke-width="0.8" stroke-linejoin="round">
<text x="666.30" y="1008.3" font-size="36" font-weight="normal" fill="#16162a" >8</text>
<text x="686.31" y="1008.3" font-size="36" font-weight="normal" fill="#16162a" >0</text>
</g>
<g stroke="#fff" stroke-width="0.8" stroke-linejoin="round">
<text x="772.24" y="1008.3" font-size="36" font-weight="normal" fill="#16162a" >9</text>
<text x="792.26" y="1008.3" font-size="36" font-weight="normal" fill="#16162a" >0</text>
</g>
<g stroke="#fff" stroke-width="0.8" stroke-linejoin="round">
<path d="M881.41 1008.30L878.28 1008.30L878.28 988.42C877.08 989.59 875.30 990.66 872.07 992.25L872.07 989.24C875.30 987.71 877.79 985.58 879.38 982.88L881.41 982.88Z" fill="#16162a"/>
<text x="887.55" y="1008.3" font-size="35.5" font-weight="normal" fill="#16162a" >0</text>
<text x="906.89" y="1008.3" font-size="35.5" font-weight="normal" fill="#16162a" >0</text>
</g>
<text x="823" y="1003" font-size="30" font-weight="bold" fill="#16162a" >°</text>
<text x="838" y="1008.3" font-size="35" font-weight="bold" fill="#16162a" >C</text>
<text x="301" y="1055" font-size="35" font-weight="bold" fill="#000" textLength="251" lengthAdjust="spacing" stroke="#fff" stroke-width="0.4">Temperature T</text>
<path d="M613 1043.4H700" stroke="#000" stroke-width="2.2"/>
<path d="M692 1036.8L699.5 1037.8V1039H709V1040.6H718V1042.6L727 1043L725.5 1045.8L718 1046.4V1048.2H709V1049.8H699.5V1051.2L695 1052.6L692 1051Z" fill="#000"/>
<text x="97.5" y="214.6" font-size="35" font-weight="bold" fill="#000" >Pa</text>
<path d="M37.7 352V381.5" stroke="#000" stroke-width="2.4"/>
<path d="M36.8 325H41V334H42.7V342H45.2V350H47.3V354H30.1V350H32.6V342H34.7V334H36.8Z" fill="#000"/>
<text x="15" y="443" font-size="34" font-weight="bold" fill="#000" >G''</text>
<text x="19.5" y="582.5" font-size="34" font-weight="bold" fill="#000" >G'</text>
<path d="M4.5 465.2H70.3" stroke="#1a1a8c" stroke-width="2.4"/>
<path d="M34.5 460.7H42.5V466.2L38.5 468.7L34.5 466.2Z" fill="#0000c8"/>
<path d="M4.5 482.8H70.3" stroke="#d02020" stroke-width="2.4"/>
<path d="M34.5 478.3H42.5V483.8L38.5 486.3L34.5 483.8Z" fill="#ff0000"/>
<path d="M4.5 504.3H70.3" stroke="#20a020" stroke-width="2.4"/>
<path d="M34.5 499.8H42.5V505.3L38.5 507.8L34.5 505.3Z" fill="#00c000"/>
<path d="M4.5 521.3H70.3" stroke="#f5c25a" stroke-width="2.4"/>
<path d="M34.5 516.8H42.5V522.3L38.5 524.8L34.5 522.3Z" fill="#fbb43a"/>
<path d="M4.5 605H70.3" stroke="#1a1a8c" stroke-width="2.4"/>
<path d="M37.4 600.8L41.6 605L37.4 609.2L33.199999999999996 605Z" fill="#0000c8"/>
<path d="M4.5 624.6H70.3" stroke="#d02020" stroke-width="2.4"/>
<path d="M33.5 624.6H41.5L37.5 619.1Z" fill="#ff0000"/>
<path d="M4.5 641.7H70.3" stroke="#20a020" stroke-width="2.4"/>
<path d="M37.4 637.5L41.6 641.7L37.4 645.9000000000001L33.199999999999996 641.7Z" fill="#00c000"/>
<path d="M4.5 663.5H70.3" stroke="#f5c25a" stroke-width="2.4"/>
<path d="M33.5 663.5H41.5L37.5 658.0Z" fill="#fbb43a"/>
<path d="M1013.4 416V444.7" stroke="#000" stroke-width="2.2"/>
<path d="M1012.4 386.7H1014.4V396H1016.5V404H1018.5V412H1021.6V418.4H1005.2V412H1008.3V404H1010.3V396H1012.4Z" fill="#000"/>
<text x="915.5" y="512.5" font-size="30" font-weight="bold" fill="#000" >°</text>
<text x="931.5" y="516" font-size="35" font-weight="bold" fill="#000" >C</text>
<text x="1003" y="505" font-size="35" font-weight="bold" fill="#000" >T</text>
<path d="M980.3 530H1046.2" stroke="#1a1a8c" stroke-width="2.4"/>
<path d="M980.3 551.4H1046.2" stroke="#d02020" stroke-width="2.4"/>
<path d="M980.3 572.4H1046.2" stroke="#20a020" stroke-width="2.4"/>
<path d="M980.3 598.7H1046.2" stroke="#f5c25a" stroke-width="2.4"/>
<path d="M1006 582H1021L1013.5 565.5Z" fill="#00c000"/>
<path d="M1006 605.4H1021L1013.5 588.7Z" fill="#fbb43a"/>
<rect x="1096.3" y="56.8" width="117.2" height="47.5" fill="none" stroke="#000" stroke-width="2.2"/>
<text x="1111" y="90.3" font-size="24.2" font-weight="normal" fill="#111" textLength="83.5" lengthAdjust="spacing" stroke="#fff" stroke-width="0.3">2% pH3</text>
<rect x="1087.9" y="274" width="127.9" height="47.1" fill="none" stroke="#000" stroke-width="2.2"/>
<text x="1111" y="303" font-size="24.2" font-weight="normal" fill="#111" textLength="83.5" lengthAdjust="spacing" stroke="#fff" stroke-width="0.3">2% pH5</text>
<rect x="1085.7" y="478.6" width="127.8" height="62.0" fill="none" stroke="#000" stroke-width="2.2"/>
<text x="1111" y="518" font-size="24.2" font-weight="normal" fill="#111" textLength="83.5" lengthAdjust="spacing" stroke="#fff" stroke-width="0.3">2% pH7</text>
<rect x="1083.4" y="695.4" width="134.2" height="53.6" fill="none" stroke="#000" stroke-width="2.2"/>
<text x="1111" y="730.2" font-size="24.2" font-weight="normal" fill="#111" textLength="83.5" lengthAdjust="spacing" stroke="#fff" stroke-width="0.3">2% pH9</text>
<path d="M1090 134.2H1129.5" stroke="#1a1a8c" stroke-width="2.2"/>
<path d="M1104.5 131.2H1113.5L1109 138.2Z" fill="#0000c8"/>
<text x="1154" y="141.6" font-size="22" fill="#222" stroke="#fff" stroke-width="0.2">G<tspan fill="#8a8a8a" stroke="none" font-size="19" dy="-3" dx="2.5">"</tspan></text>
<text x="1208" y="141.6" font-size="22" fill="#222" textLength="146" lengthAdjust="spacing" stroke="#fff" stroke-width="0.2">Loss <tspan fill="#70707a">M</tspan> odulus</text>
<path d="M1090 187.6H1129.5" stroke="#1a1a8c" stroke-width="2.2"/>
<path d="M1108.5 184.4L1111.7 187.6L1108.5 190.79999999999998L1105.3 187.6Z" fill="#0000c8"/>
<text x="1154" y="194.8" font-size="22" fill="#222" stroke="#fff" stroke-width="0.2">G<tspan fill="#8a8a8a" stroke="none" font-size="19" dy="-3" dx="2.5">'</tspan></text>
<text x="1208" y="194.8" font-size="22" fill="#222" textLength="178.5" lengthAdjust="spacing" stroke="#fff" stroke-width="0.2">Storage <tspan fill="#70707a">M</tspan> odulus</text>
<path d="M1090 241.9H1129.5" stroke="#1a1a8c" stroke-width="2.2"/>
<text x="1153.5" y="249.1" font-size="22" font-weight="normal" fill="#555" stroke="#fff" stroke-width="0.4">T</text>
<text x="1208" y="249.1" font-size="22" fill="#222" textLength="130" lengthAdjust="spacing" stroke="#fff" stroke-width="0.2">Temperature</text>
<path d="M1090 349.4H1129.5" stroke="#d02020" stroke-width="2.2"/>
<path d="M1104.5 346.4H1113.5L1109 353.4Z" fill="#ff0000"/>
<text x="1154" y="356.2" font-size="22" fill="#222" stroke="#fff" stroke-width="0.2">G<tspan fill="#8a8a8a" stroke="none" font-size="19" dy="-3" dx="2.5">"</tspan></text>
<text x="1208" y="356.2" font-size="22" fill="#222" textLength="146" lengthAdjust="spacing" stroke="#fff" stroke-width="0.2">Loss <tspan fill="#70707a">M</tspan> odulus</text>
<path d="M1090 402.6H1129.5" stroke="#d02020" stroke-width="2.2"/>
<path d="M1104 402.6H1113L1108.5 397.6Z" fill="#ff0000"/>
<text x="1154" y="409.8" font-size="22" fill="#222" stroke="#fff" stroke-width="0.2">G<tspan fill="#8a8a8a" stroke="none" font-size="19" dy="-3" dx="2.5">'</tspan></text>
<text x="1208" y="409.8" font-size="22" fill="#222" textLength="178.5" lengthAdjust="spacing" stroke="#fff" stroke-width="0.2">Storage <tspan fill="#70707a">M</tspan> odulus</text>
<path d="M1090 456.9H1129.5" stroke="#d02020" stroke-width="2.2"/>
<text x="1153.5" y="463.7" font-size="22" font-weight="normal" fill="#555" stroke="#fff" stroke-width="0.4">T</text>
<text x="1208" y="463.7" font-size="22" fill="#222" textLength="130" lengthAdjust="spacing" stroke="#fff" stroke-width="0.2">Temperature</text>
<path d="M1090 562.1H1129.5" stroke="#20a020" stroke-width="2.2"/>
<path d="M1104.5 559.1H1113.5L1109 566.1Z" fill="#00c000"/>
<text x="1154" y="570" font-size="22" fill="#222" stroke="#fff" stroke-width="0.2">G<tspan fill="#8a8a8a" stroke="none" font-size="19" dy="-3" dx="2.5">"</tspan></text>
<text x="1208" y="570" font-size="22" fill="#222" textLength="146" lengthAdjust="spacing" stroke="#fff" stroke-width="0.2">Loss <tspan fill="#70707a">M</tspan> odulus</text>
<path d="M1090 616H1129.5" stroke="#20a020" stroke-width="2.2"/>
<path d="M1108.5 612.8L1111.7 616L1108.5 619.2L1105.3 616Z" fill="#00c000"/>
<text x="1154" y="622" font-size="22" fill="#222" stroke="#fff" stroke-width="0.2">G<tspan fill="#8a8a8a" stroke="none" font-size="19" dy="-3" dx="2.5">'</tspan></text>
<text x="1208" y="622" font-size="22" fill="#222" textLength="178.5" lengthAdjust="spacing" stroke="#fff" stroke-width="0.2">Storage <tspan fill="#70707a">M</tspan> odulus</text>
<path d="M1090 669.6H1129.5" stroke="#20a020" stroke-width="2.2"/>
<path d="M1101 677.6H1117.5L1109.5 661.6Z" fill="#00c000"/>
<text x="1153.5" y="676.4" font-size="22" font-weight="normal" fill="#555" stroke="#fff" stroke-width="0.4">T</text>
<text x="1208" y="676.4" font-size="22" fill="#222" textLength="130" lengthAdjust="spacing" stroke="#fff" stroke-width="0.2">Temperature</text>
<path d="M1090 776.6H1129.5" stroke="#f5c25a" stroke-width="2.2"/>
<path d="M1104.5 773.6H1113.5L1109 780.6Z" fill="#fbb43a"/>
<text x="1154" y="784.1" font-size="22" fill="#222" stroke="#fff" stroke-width="0.2">G<tspan fill="#8a8a8a" stroke="none" font-size="19" dy="-3" dx="2.5">"</tspan></text>
<text x="1208" y="784.1" font-size="22" fill="#222" textLength="146" lengthAdjust="spacing" stroke="#fff" stroke-width="0.2">Loss <tspan fill="#70707a">M</tspan> odulus</text>
<path d="M1090 830.5H1129.5" stroke="#f5c25a" stroke-width="2.2"/>
<path d="M1104 830.5H1113L1108.5 825.5Z" fill="#fbb43a"/>
<text x="1154" y="837.3" font-size="22" fill="#222" stroke="#fff" stroke-width="0.2">G<tspan fill="#8a8a8a" stroke="none" font-size="19" dy="-3" dx="2.5">'</tspan></text>
<text x="1208" y="837.3" font-size="22" fill="#222" textLength="178.5" lengthAdjust="spacing" stroke="#fff" stroke-width="0.2">Storage <tspan fill="#70707a">M</tspan> odulus</text>
<path d="M1090 884.1H1129.5" stroke="#f5c25a" stroke-width="2.2"/>
<path d="M1101 892.1H1117.5L1109.5 876.1Z" fill="#fbb43a"/>
<text x="1153.5" y="891.6" font-size="22" font-weight="normal" fill="#555" stroke="#fff" stroke-width="0.4">T</text>
<text x="1208" y="891.6" font-size="22" fill="#222" textLength="130" lengthAdjust="spacing" stroke="#fff" stroke-width="0.2">Temperature</text>
</svg></body></html>
